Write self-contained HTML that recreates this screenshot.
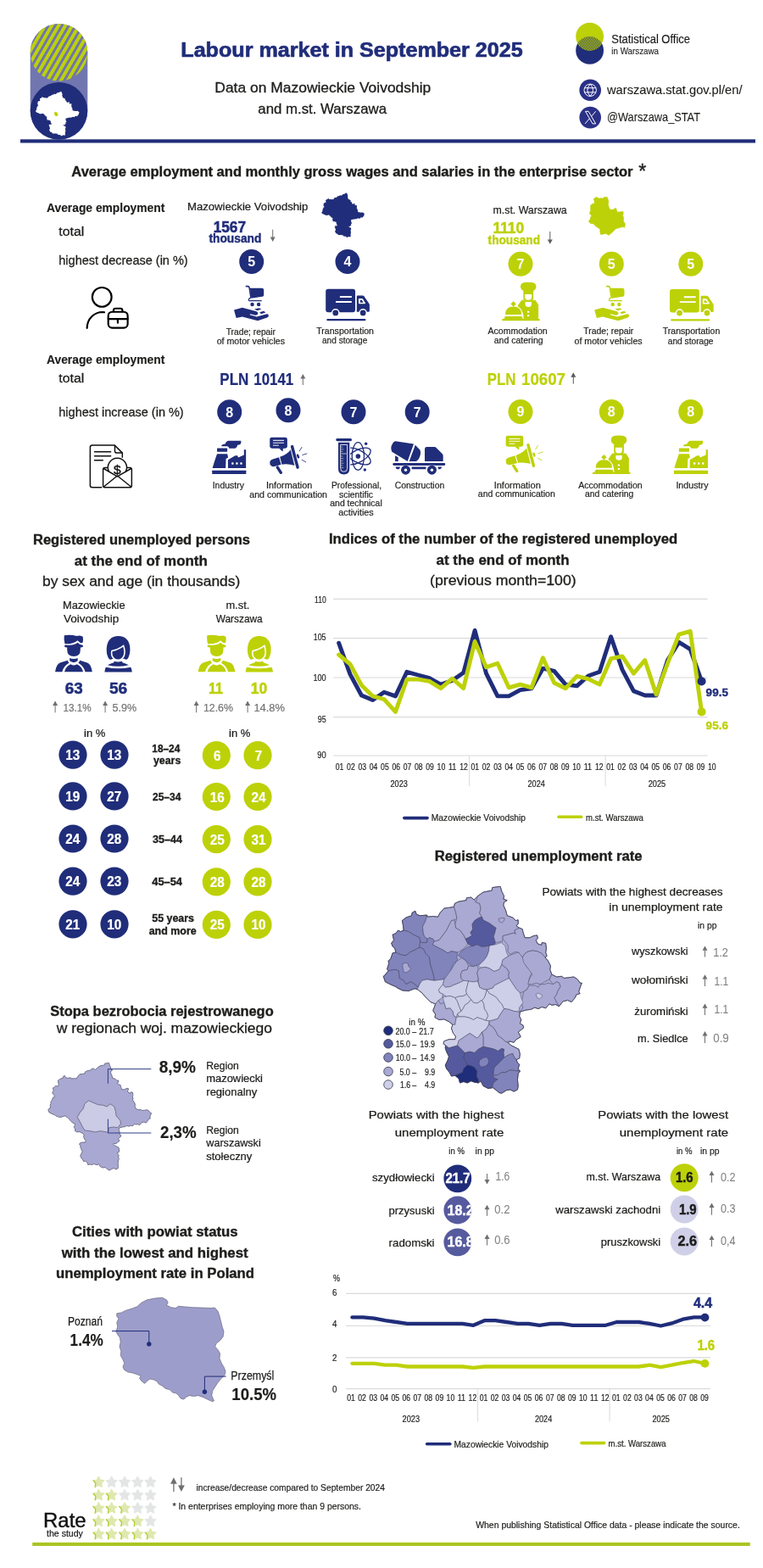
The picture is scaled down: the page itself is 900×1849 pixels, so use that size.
<!DOCTYPE html>
<html lang="en">
<head>
<meta charset="utf-8">
<title>Labour market in September 2025</title>
<style>
html,body{margin:0;padding:0;background:#fff}
body{width:900px;height:1849px;overflow:hidden}
svg{display:block;font-family:"Liberation Sans", "DejaVu Sans", sans-serif}
text{white-space:pre}
</style>
</head>
<body>
<svg width="900" height="1849" viewBox="0 0 900 1849">
<rect width="900" height="1849" fill="#fff"/>
<g id="header">
<defs><pattern id="hatch" width="6.95" height="6.95" patternUnits="userSpaceOnUse" patternTransform="rotate(30) translate(3.4 0)"><rect width="6.95" height="6.95" fill="#6f73b0"/><rect width="4" height="6.95" fill="#bdd108"/></pattern>
<clipPath id="lens"><circle cx="695.6" cy="43.1" r="16.4"/></clipPath><clipPath id="lens2"><circle cx="695.6" cy="59.4" r="16.4"/></clipPath></defs>
<rect x="35.7" y="28" width="67.6" height="136.6" rx="33.8" fill="#7276b0"/>
<circle cx="69.5" cy="61.8" r="33.8" fill="url(#hatch)"/>
<circle cx="69.5" cy="130.8" r="33.8" fill="#202d7a"/>
<g transform="translate(39.29 105.66) scale(0.03185 0.03104)"><path d="M85 805 L95 800 L125 760 L115 745 L130 700 L125 680 L145 660 L160 615 L185 610 L180 580 L160 560 L150 535 L170 510 L160 465 L185 455 L205 430 L225 440 L250 430 L245 385 L238 350 L270 325 L315 310 L320 285 L345 272 L355 300 L385 310 L440 305 L445 320 L490 315 L530 320 L545 290 L580 250 L620 245 L660 238 L668 210 L700 195 L760 185 L765 165 L800 160 L825 180 L855 150 L900 118 L970 105 L975 80 L1040 72 L1050 110 L1070 150 L1065 175 L1095 185 L1070 200 L1065 225 L1085 270 L1095 310 L1140 325 L1165 350 L1185 345 L1185 375 L1170 395 L1195 410 L1220 420 L1225 445 L1240 490 L1280 490 L1310 475 L1340 470 L1345 495 L1330 510 L1345 540 L1375 550 L1380 530 L1410 535 L1415 580 L1410 610 L1420 640 L1405 650 L1430 680 L1450 720 L1445 750 L1460 790 L1500 810 L1540 805 L1560 820 L1600 815 L1640 810 L1670 830 L1690 860 L1705 860 L1695 885 L1690 900 L1680 930 L1690 945 L1660 955 L1650 980 L1620 1015 L1590 1000 L1550 1010 L1520 1050 L1490 1035 L1460 1040 L1440 1030 L1410 1065 L1380 1055 L1350 1070 L1320 1060 L1290 1075 L1250 1080 L1200 1095 L1195 1130 L1210 1160 L1200 1190 L1225 1205 L1230 1225 L1205 1245 L1185 1260 L1200 1285 L1205 1300 L1170 1320 L1150 1345 L1115 1335 L1105 1350 L1130 1370 L1170 1390 L1190 1400 L1200 1440 L1195 1475 L1170 1485 L1180 1510 L1195 1525 L1185 1560 L1200 1580 L1185 1600 L1180 1650 L1185 1700 L1180 1730 L1150 1745 L1120 1730 L1090 1735 L1050 1760 L1030 1755 L1000 1730 L980 1715 L940 1720 L900 1700 L880 1660 L860 1675 L830 1670 L800 1660 L770 1675 L740 1665 L710 1675 L700 1640 L670 1615 L640 1620 L625 1590 L600 1560 L590 1530 L610 1490 L620 1460 L600 1420 L590 1390 L595 1370 L575 1355 L580 1335 L620 1320 L670 1320 L675 1295 L655 1270 L640 1230 L650 1200 L620 1175 L580 1155 L540 1160 L505 1140 L510 1115 L490 1085 L500 1060 L510 1030 L470 1015 L430 975 L400 940 L360 910 L340 905 L290 925 L240 920 L200 900 L185 890 L140 870 L100 850 Z" fill="#fff"/></g>
<path d="M64.4 132.3l1.2-.6 1.3.5 .9 1.2 .8 1.6-.6 1.5-1.4.6-1.3-.4-.9-1.4-.5-1.5z" fill="#bdd108"/>
<rect x="24" y="164.3" width="867" height="4.2" fill="#202d7a"/>
<text x="213.3" y="66.7" font-size="24.4" font-weight="700" fill="#202d7a" stroke="#202d7a" stroke-width="0.68" textLength="403.4" lengthAdjust="spacingAndGlyphs">Labour market in September 2025</text>
<text x="253.3" y="109.0" font-size="17.2" font-weight="400" fill="#1d1d1b" stroke="#1d1d1b" stroke-width="0.31" textLength="255.0" lengthAdjust="spacingAndGlyphs">Data on Mazowieckie Voivodship</text>
<text x="304.3" y="134.3" font-size="17.2" font-weight="400" fill="#1d1d1b" stroke="#1d1d1b" stroke-width="0.31" textLength="151.7" lengthAdjust="spacingAndGlyphs">and m.st. Warszawa</text>
<circle cx="695.6" cy="59.4" r="16.4" fill="#202d7a"/>
<circle cx="695.6" cy="43.1" r="16.4" fill="#bdd108"/>
<g clip-path="url(#lens)"><g clip-path="url(#lens2)"><rect x="675" y="40" width="42" height="22" fill="#bdd108"/><path d="M664.20 61L675.75 41M666.20 61L677.75 41M668.20 61L679.75 41M670.20 61L681.75 41M672.20 61L683.75 41M674.20 61L685.75 41M676.20 61L687.75 41M678.20 61L689.75 41M680.20 61L691.75 41M682.20 61L693.75 41M684.20 61L695.75 41M686.20 61L697.75 41M688.20 61L699.75 41M690.20 61L701.75 41M692.20 61L703.75 41M694.20 61L705.75 41M696.20 61L707.75 41M698.20 61L709.75 41M700.20 61L711.75 41M702.20 61L713.75 41M704.20 61L715.75 41M706.20 61L717.75 41M708.20 61L719.75 41M710.20 61L721.75 41M712.20 61L723.75 41M714.20 61L725.75 41M716.20 61L727.75 41M718.20 61L729.75 41M720.20 61L731.75 41M722.20 61L733.75 41" stroke="#2a3a66" stroke-width="0.9" fill="none"/></g></g>
<text x="721.3" y="50.8" font-size="15.2" font-weight="400" fill="#1a1a1a" stroke="#1a1a1a" stroke-width="0.16" textLength="92.7" lengthAdjust="spacingAndGlyphs">Statistical Office</text>
<text x="721.3" y="63.8" font-size="11.6" font-weight="400" fill="#1a1a1a" stroke="#1a1a1a" stroke-width="0.13" textLength="55.7" lengthAdjust="spacingAndGlyphs">in Warszawa</text>
<circle cx="696.2" cy="106.3" r="12.8" fill="#2a3187"/>
<g fill="none" stroke="#fff" stroke-width="1"><circle cx="696.2" cy="106.3" r="7.2"/><path d="M696.2 99.1Q702.8 106.3 696.2 113.5Q689.6 106.3 696.2 99.1Z"/><path d="M689.5 103.7H702.9M689.5 108.9H702.9"/></g>
<circle cx="696.2" cy="138.6" r="12.8" fill="#2a3187"/>
<g fill="none" stroke="#fff" stroke-width="1" stroke-linejoin="miter"><path d="M702.7 131.3L690.1 145.9"/><path d="M690.5 131.3H694.1L702.7 145.9H699.0Z" fill="#2a3187"/></g>
<text x="716.0" y="110.8" font-size="14.6" font-weight="400" fill="#1d1d1b" stroke="#1d1d1b" stroke-width="0.11" textLength="159.5" lengthAdjust="spacingAndGlyphs">warszawa.stat.gov.pl/en/</text>
<text x="716.0" y="143.3" font-size="14.6" font-weight="400" fill="#1d1d1b" stroke="#1d1d1b" stroke-width="0.11" textLength="110.0" lengthAdjust="spacingAndGlyphs">@Warszawa_STAT</text>
</g>
<g id="enterprise">
<text x="84.3" y="208.3" font-size="17.4" font-weight="700" fill="#1d1d1b" stroke="#1d1d1b" stroke-width="0.39" textLength="662.2" lengthAdjust="spacingAndGlyphs">Average employment and monthly gross wages and salaries in the enterprise sector</text>
<text x="753.2" y="209.6" font-size="23.0" font-weight="400" fill="#1d1d1b" stroke="#1d1d1b" stroke-width="0.41" textLength="9.0" lengthAdjust="spacingAndGlyphs">*</text>
<text x="55.0" y="250.3" font-size="14.6" font-weight="700" fill="#1d1d1b" stroke="#1d1d1b" stroke-width="0.16" textLength="139.3" lengthAdjust="spacingAndGlyphs">Average employment</text>
<text x="69.3" y="278.0" font-size="14.9" font-weight="400" fill="#1d1d1b" stroke="#1d1d1b" stroke-width="0.27" textLength="30.0" lengthAdjust="spacingAndGlyphs">total</text>
<text x="69.3" y="311.9" font-size="14.9" font-weight="400" fill="#1d1d1b" stroke="#1d1d1b" stroke-width="0.27" textLength="152.4" lengthAdjust="spacingAndGlyphs">highest decrease (in %)</text>
<text x="221.0" y="247.6" font-size="13.5" font-weight="400" fill="#1d1d1b" stroke="#1d1d1b" stroke-width="0.24" textLength="142.3" lengthAdjust="spacingAndGlyphs">Mazowieckie Voivodship</text>
<text x="251.7" y="274.2" font-size="18.6" font-weight="700" fill="#202d7a" stroke="#202d7a" stroke-width="0.52" textLength="38.3" lengthAdjust="spacingAndGlyphs">1567</text>
<text x="246.5" y="286.0" font-size="14.6" font-weight="700" fill="#202d7a" stroke="#202d7a" stroke-width="0.41" textLength="61.8" lengthAdjust="spacingAndGlyphs">thousand</text>
<path d="M321.7 270.7V280.7" stroke="#6f6f6e" stroke-width="1.0" fill="none"/><path d="M321.7 285.0L318.7 279.6L324.7 279.6Z" fill="#6f6f6e"/>
<g transform="translate(376.64 225.26) scale(0.03130 0.03110)"><path d="M85 805 L95 800 L125 760 L115 745 L130 700 L125 680 L145 660 L160 615 L185 610 L180 580 L160 560 L150 535 L170 510 L160 465 L185 455 L205 430 L225 440 L250 430 L245 385 L238 350 L270 325 L315 310 L320 285 L345 272 L355 300 L385 310 L440 305 L445 320 L490 315 L530 320 L545 290 L580 250 L620 245 L660 238 L668 210 L700 195 L760 185 L765 165 L800 160 L825 180 L855 150 L900 118 L970 105 L975 80 L1040 72 L1050 110 L1070 150 L1065 175 L1095 185 L1070 200 L1065 225 L1085 270 L1095 310 L1140 325 L1165 350 L1185 345 L1185 375 L1170 395 L1195 410 L1220 420 L1225 445 L1240 490 L1280 490 L1310 475 L1340 470 L1345 495 L1330 510 L1345 540 L1375 550 L1380 530 L1410 535 L1415 580 L1410 610 L1420 640 L1405 650 L1430 680 L1450 720 L1445 750 L1460 790 L1500 810 L1540 805 L1560 820 L1600 815 L1640 810 L1670 830 L1690 860 L1705 860 L1695 885 L1690 900 L1680 930 L1690 945 L1660 955 L1650 980 L1620 1015 L1590 1000 L1550 1010 L1520 1050 L1490 1035 L1460 1040 L1440 1030 L1410 1065 L1380 1055 L1350 1070 L1320 1060 L1290 1075 L1250 1080 L1200 1095 L1195 1130 L1210 1160 L1200 1190 L1225 1205 L1230 1225 L1205 1245 L1185 1260 L1200 1285 L1205 1300 L1170 1320 L1150 1345 L1115 1335 L1105 1350 L1130 1370 L1170 1390 L1190 1400 L1200 1440 L1195 1475 L1170 1485 L1180 1510 L1195 1525 L1185 1560 L1200 1580 L1185 1600 L1180 1650 L1185 1700 L1180 1730 L1150 1745 L1120 1730 L1090 1735 L1050 1760 L1030 1755 L1000 1730 L980 1715 L940 1720 L900 1700 L880 1660 L860 1675 L830 1670 L800 1660 L770 1675 L740 1665 L710 1675 L700 1640 L670 1615 L640 1620 L625 1590 L600 1560 L590 1530 L610 1490 L620 1460 L600 1420 L590 1390 L595 1370 L575 1355 L580 1335 L620 1320 L670 1320 L675 1295 L655 1270 L640 1230 L650 1200 L620 1175 L580 1155 L540 1160 L505 1140 L510 1115 L490 1085 L500 1060 L510 1030 L470 1015 L430 975 L400 940 L360 910 L340 905 L290 925 L240 920 L200 900 L185 890 L140 870 L100 850 Z" fill="#202d7a"/></g>
<circle cx="296.7" cy="308.6" r="14.5" fill="#202d7a"/><text x="296.7" y="314.4" font-size="16.0" font-weight="700" fill="#fff" stroke="#fff" stroke-width="0.00" text-anchor="middle">5</text>
<circle cx="410.0" cy="308.6" r="14.5" fill="#202d7a"/><text x="410.0" y="314.4" font-size="16.0" font-weight="700" fill="#fff" stroke="#fff" stroke-width="0.00" text-anchor="middle">4</text>
<g transform="translate(90 325) scale(0.08889)"><g fill="none" stroke="#000" stroke-width="24" stroke-linecap="round" stroke-linejoin="round"><circle cx="340" cy="285" r="128"/><path d="M142 696 C146 572 236 484 350 484 L372 487"/><rect x="424" y="481" width="258" height="212" rx="52"/><path d="M494 478V462Q494 436 520 436H586Q612 436 612 462V478"/><path d="M424 575H682M550 578V626"/></g></g>
<g transform="translate(260.00 325.04) scale(0.08891 0.08894)"><g fill="#202d7a"><path d="M342 142H362Q380 142 384 162L404 285" fill="none" stroke="#202d7a" stroke-width="18" stroke-linecap="round"/><path d="M392 165H548Q576 165 576 192V255Q576 276 555 279L410 299Z"/><path d="M404 290Q376 300 374 320Q374 336 396 334H542" fill="none" stroke="#202d7a" stroke-width="14" stroke-linecap="round"/><circle cx="422" cy="382" r="25"/><circle cx="507" cy="382" r="25"/><path d="M180 455L290 425L480 475Q506 488 496 512Q482 530 455 522L395 508L390 520L482 545L606 510Q640 503 640 530Q640 546 620 556L495 598L290 545L210 563Z"/><path d="M450 445L510 430L545 445L490 462Z"/><path d="M520 485L575 468L600 490L540 508Z"/></g></g>
<g transform="translate(369.99 329.96) scale(0.08883 0.08889)"><g fill="#202d7a"><rect x="160" y="122" width="392" height="308" rx="32"/><path d="M572 220Q572 208 584 208H652Q662 208 668 216L736 316Q742 325 742 336V412Q742 425 730 425H572Z"/><path d="M606 248H640Q648 248 652 254L686 306Q690 318 678 318H606Q596 318 596 308V258Q596 248 606 248Z" fill="#fff"/><path d="M618 268H638L662 302H618Z"/><rect x="348" y="214" width="158" height="22" rx="6" fill="#fff"/><rect x="292" y="281" width="214" height="22" rx="6" fill="#fff"/><circle cx="290" cy="438" r="54" fill="#fff"/><circle cx="655" cy="438" r="54" fill="#fff"/><circle cx="290" cy="438" r="38"/><circle cx="655" cy="438" r="38"/><rect x="172" y="518" width="520" height="26" rx="13"/></g></g>
<text x="266.7" y="394.5" font-size="10.0" font-weight="400" fill="#1d1d1b" stroke="#1d1d1b" stroke-width="0.18" textLength="58.3" lengthAdjust="spacingAndGlyphs">Trade; repair</text>
<text x="255.7" y="405.8" font-size="10.0" font-weight="400" fill="#1d1d1b" stroke="#1d1d1b" stroke-width="0.18" textLength="80.3" lengthAdjust="spacingAndGlyphs">of motor vehicles</text>
<text x="373.3" y="394.0" font-size="10.0" font-weight="400" fill="#1d1d1b" stroke="#1d1d1b" stroke-width="0.18" textLength="67.7" lengthAdjust="spacingAndGlyphs">Transportation</text>
<text x="380.0" y="405.0" font-size="10.0" font-weight="400" fill="#1d1d1b" stroke="#1d1d1b" stroke-width="0.18" textLength="53.3" lengthAdjust="spacingAndGlyphs">and storage</text>
<text x="581.6" y="252.2" font-size="13.5" font-weight="400" fill="#1d1d1b" stroke="#1d1d1b" stroke-width="0.24" textLength="87.1" lengthAdjust="spacingAndGlyphs">m.st. Warszawa</text>
<text x="581.4" y="275.0" font-size="18.6" font-weight="700" fill="#bdd108" stroke="#bdd108" stroke-width="0.52" textLength="36.8" lengthAdjust="spacingAndGlyphs">1110</text>
<text x="575.6" y="287.5" font-size="14.6" font-weight="700" fill="#bdd108" stroke="#bdd108" stroke-width="0.41" textLength="61.4" lengthAdjust="spacingAndGlyphs">thousand</text>
<path d="M648.8 273.0V283.5" stroke="#5f5f5f" stroke-width="1.0" fill="none"/><path d="M648.8 287.8L645.8 282.4L651.8 282.4Z" fill="#5f5f5f"/>
<g transform="translate(680.34 222.34) scale(0.07699 0.07700)"><path d="M255 160 L300 130 L340 150 L380 145 L400 155 L410 135 L465 128 L485 180 L488 220 L480 240 L495 290 L515 325 L560 320 L600 295 L610 330 L625 362 L680 352 L710 350 L715 385 L705 410 L720 450 L715 500 L745 545 L730 600 L705 585 L660 600 L600 615 L555 660 L490 715 L445 690 L400 700 L365 705 L355 655 L355 620 L300 585 L255 540 L210 535 L180 500 L205 470 L210 435 L230 420 L195 385 L210 330 L210 260 L235 235 L270 225 L268 190 Z" fill="#bdd108" stroke="#bdd108" stroke-width="6" stroke-linejoin="round"/></g>
<circle cx="614.0" cy="311.2" r="14.5" fill="#bdd108"/><text x="614.0" y="317.0" font-size="16.0" font-weight="700" fill="#fff" stroke="#fff" stroke-width="0.00" text-anchor="middle">7</text>
<circle cx="721.3" cy="311.2" r="14.5" fill="#bdd108"/><text x="721.3" y="317.0" font-size="16.0" font-weight="700" fill="#fff" stroke="#fff" stroke-width="0.00" text-anchor="middle">5</text>
<circle cx="814.8" cy="311.2" r="14.5" fill="#bdd108"/><text x="814.8" y="317.0" font-size="16.0" font-weight="700" fill="#fff" stroke="#fff" stroke-width="0.00" text-anchor="middle">5</text>
<g transform="translate(580.00 324.98) scale(0.08891 0.08887)"><g fill="#bdd108"><path d="M420 300V202Q382 186 382 145Q382 96 440 90Q485 84 530 90Q590 96 590 145Q590 186 552 202V300Q552 330 520 330H452Q420 330 420 300Z"/><path d="M440 248H530V285Q530 326 485 326Q440 326 440 285Z" fill="#fff"/><path d="M398 328H578L616 388V585H352V395Z" stroke="#bdd108" stroke-width="8" stroke-linejoin="round"/><path d="M445 350H528V380Q528 416 487 416Q445 416 445 380Z" fill="#fff"/><rect x="472" y="470" width="26" height="22" rx="4" fill="#fff"/><rect x="472" y="520" width="26" height="22" rx="4" fill="#fff"/><path d="M165 590V540Q165 400 288 400Q420 400 425 590Z" fill="#fff"/><path d="M180 517Q180 410 288 410Q395 410 395 517Z"/><path d="M288 343L320 375L288 410L256 375Z" stroke="#bdd108" stroke-width="6" stroke-linejoin="round"/><path d="M168 580V560Q168 540 190 540H388Q410 540 410 560V580Z"/><rect x="135" y="574" width="505" height="26" rx="13"/></g></g>
<g transform="translate(685.20 325.04) scale(0.08891 0.08894)"><g fill="#bdd108"><path d="M342 142H362Q380 142 384 162L404 285" fill="none" stroke="#bdd108" stroke-width="18" stroke-linecap="round"/><path d="M392 165H548Q576 165 576 192V255Q576 276 555 279L410 299Z"/><path d="M404 290Q376 300 374 320Q374 336 396 334H542" fill="none" stroke="#bdd108" stroke-width="14" stroke-linecap="round"/><circle cx="422" cy="382" r="25"/><circle cx="507" cy="382" r="25"/><path d="M180 455L290 425L480 475Q506 488 496 512Q482 530 455 522L395 508L390 520L482 545L606 510Q640 503 640 530Q640 546 620 556L495 598L290 545L210 563Z"/><path d="M450 445L510 430L545 445L490 462Z"/><path d="M520 485L575 468L600 490L540 508Z"/></g></g>
<g transform="translate(775.79 330.16) scale(0.08883 0.08889)"><g fill="#bdd108"><rect x="160" y="122" width="392" height="308" rx="32"/><path d="M572 220Q572 208 584 208H652Q662 208 668 216L736 316Q742 325 742 336V412Q742 425 730 425H572Z"/><path d="M606 248H640Q648 248 652 254L686 306Q690 318 678 318H606Q596 318 596 308V258Q596 248 606 248Z" fill="#fff"/><path d="M618 268H638L662 302H618Z"/><rect x="348" y="214" width="158" height="22" rx="6" fill="#fff"/><rect x="292" y="281" width="214" height="22" rx="6" fill="#fff"/><circle cx="290" cy="438" r="54" fill="#fff"/><circle cx="655" cy="438" r="54" fill="#fff"/><circle cx="290" cy="438" r="38"/><circle cx="655" cy="438" r="38"/><rect x="172" y="518" width="520" height="26" rx="13"/></g></g>
<text x="575.6" y="394.0" font-size="10.0" font-weight="400" fill="#1d1d1b" stroke="#1d1d1b" stroke-width="0.18" textLength="70.0" lengthAdjust="spacingAndGlyphs">Acommodation</text>
<text x="582.7" y="405.0" font-size="10.0" font-weight="400" fill="#1d1d1b" stroke="#1d1d1b" stroke-width="0.18" textLength="57.9" lengthAdjust="spacingAndGlyphs">and catering</text>
<text x="688.3" y="394.0" font-size="10.0" font-weight="400" fill="#1d1d1b" stroke="#1d1d1b" stroke-width="0.18" textLength="59.0" lengthAdjust="spacingAndGlyphs">Trade; repair</text>
<text x="677.6" y="405.5" font-size="10.0" font-weight="400" fill="#1d1d1b" stroke="#1d1d1b" stroke-width="0.18" textLength="80.0" lengthAdjust="spacingAndGlyphs">of motor vehicles</text>
<text x="781.8" y="394.0" font-size="10.0" font-weight="400" fill="#1d1d1b" stroke="#1d1d1b" stroke-width="0.18" textLength="67.5" lengthAdjust="spacingAndGlyphs">Transportation</text>
<text x="787.8" y="405.5" font-size="10.0" font-weight="400" fill="#1d1d1b" stroke="#1d1d1b" stroke-width="0.18" textLength="53.7" lengthAdjust="spacingAndGlyphs">and storage</text>
<text x="55.0" y="428.8" font-size="14.6" font-weight="700" fill="#1d1d1b" stroke="#1d1d1b" stroke-width="0.16" textLength="139.3" lengthAdjust="spacingAndGlyphs">Average employment</text>
<text x="69.3" y="451.4" font-size="14.9" font-weight="400" fill="#1d1d1b" stroke="#1d1d1b" stroke-width="0.27" textLength="30.0" lengthAdjust="spacingAndGlyphs">total</text>
<text x="69.3" y="490.8" font-size="14.9" font-weight="400" fill="#1d1d1b" stroke="#1d1d1b" stroke-width="0.27" textLength="147.4" lengthAdjust="spacingAndGlyphs">highest increase (in %)</text>
<text x="259.3" y="454.0" font-size="19.6" font-weight="700" fill="#202d7a" stroke="#202d7a" stroke-width="0.22" textLength="34.0" lengthAdjust="spacingAndGlyphs">PLN</text>
<text x="299.3" y="454.0" font-size="19.6" font-weight="700" fill="#202d7a" stroke="#202d7a" stroke-width="0.22" textLength="46.9" lengthAdjust="spacingAndGlyphs">10141</text>
<path d="M357.3 445.3V454.0" stroke="#6f6f6e" stroke-width="1.0" fill="none"/><path d="M357.3 441.0L354.3 446.4L360.3 446.4Z" fill="#6f6f6e"/>
<text x="574.8" y="454.0" font-size="19.6" font-weight="700" fill="#bdd108" stroke="#bdd108" stroke-width="0.22" textLength="33.7" lengthAdjust="spacingAndGlyphs">PLN</text>
<text x="615.0" y="454.0" font-size="19.6" font-weight="700" fill="#bdd108" stroke="#bdd108" stroke-width="0.22" textLength="52.0" lengthAdjust="spacingAndGlyphs">10607</text>
<path d="M676.3 443.6V452.7" stroke="#5a5a5a" stroke-width="1.0" fill="none"/><path d="M676.3 439.3L673.3 444.7L679.3 444.7Z" fill="#5a5a5a"/>
<circle cx="270.7" cy="485.7" r="14.5" fill="#202d7a"/><text x="270.7" y="491.5" font-size="16.0" font-weight="700" fill="#fff" stroke="#fff" stroke-width="0.00" text-anchor="middle">8</text>
<circle cx="340.0" cy="483.8" r="14.5" fill="#202d7a"/><text x="340.0" y="489.6" font-size="16.0" font-weight="700" fill="#fff" stroke="#fff" stroke-width="0.00" text-anchor="middle">8</text>
<circle cx="417.0" cy="485.7" r="14.5" fill="#202d7a"/><text x="417.0" y="491.5" font-size="16.0" font-weight="700" fill="#fff" stroke="#fff" stroke-width="0.00" text-anchor="middle">7</text>
<circle cx="492.2" cy="485.7" r="14.5" fill="#202d7a"/><text x="492.2" y="491.5" font-size="16.0" font-weight="700" fill="#fff" stroke="#fff" stroke-width="0.00" text-anchor="middle">7</text>
<circle cx="614.0" cy="485.4" r="14.5" fill="#bdd108"/><text x="614.0" y="491.2" font-size="16.0" font-weight="700" fill="#fff" stroke="#fff" stroke-width="0.00" text-anchor="middle">9</text>
<circle cx="721.3" cy="485.4" r="14.5" fill="#bdd108"/><text x="721.3" y="491.2" font-size="16.0" font-weight="700" fill="#fff" stroke="#fff" stroke-width="0.00" text-anchor="middle">8</text>
<circle cx="814.8" cy="485.4" r="14.5" fill="#bdd108"/><text x="814.8" y="491.2" font-size="16.0" font-weight="700" fill="#fff" stroke="#fff" stroke-width="0.00" text-anchor="middle">8</text>
<g transform="translate(95 515) scale(0.07778)"><g fill="none" stroke="#111" stroke-width="19" stroke-linecap="round" stroke-linejoin="round"><path d="M318 768H178Q146 768 146 736V162Q146 130 178 130H518L634 246V312"/><path d="M520 135V215Q520 245 550 245H630"/><path d="M212 228H458M212 293H458M212 357H338"/><path d="M410 468H372Q342 468 342 498V738Q342 768 372 768H746Q776 768 776 738V498Q776 468 746 468H706"/><path d="M350 482L558 604L768 482M352 758L558 592L766 758"/><path d="M431 530A142 142 0 1 1 685 530"/></g><text x="558" y="560" font-size="200" font-weight="400" fill="#111" stroke="#111" stroke-width="5" text-anchor="middle">$</text></g>
<g transform="translate(235.02 509.97) scale(0.07786 0.07773)"><g fill="#202d7a"><rect x="195" y="575" width="515" height="57" rx="6"/><path d="M270 325H425L438 380L405 400L400 540H200L230 440Z"/><rect x="270" y="238" width="155" height="54" rx="4"/><path d="M335 202Q345 180 395 175Q405 130 440 125H632Q642 150 622 180Q602 190 580 190Q575 232 545 240H455Q445 215 425 210H340Z"/><path d="M435 415L545 350H580L590 380L678 340V262H708V540H435Z"/><rect x="490" y="455" width="30" height="30" rx="8" fill="#fff"/><rect x="555" y="455" width="30" height="30" rx="8" fill="#fff"/><rect x="620" y="455" width="30" height="30" rx="8" fill="#fff"/></g></g>
<g transform="translate(305.03 504.99) scale(0.07778 0.07786)"><g fill="#202d7a"><rect x="170" y="138" width="265" height="167" rx="32"/><path d="M305 300H375L365 352Z"/><rect x="218" y="177" width="167" height="15" fill="#fff" opacity=".9"/><rect x="218" y="214" width="167" height="15" fill="#fff" opacity=".8"/><rect x="218" y="252" width="88" height="15" fill="#fff" opacity=".8"/><path d="M310 440L345 550L230 580Q175 585 170 525Q170 480 215 468Z"/><path d="M322 435Q430 400 490 320L550 565Q450 535 352 548Z"/><path d="M315 435L348 552M488 318L549 567" stroke="#fff" stroke-width="9" fill="none"/><path d="M508 277L592 593" stroke="#202d7a" stroke-width="44" stroke-linecap="round"/><path d="M592 408L604 440" stroke="#202d7a" stroke-width="32" stroke-linecap="round"/><path d="M286 592L338 672" stroke="#202d7a" stroke-width="44" stroke-linecap="round"/><path d="M655 288L620 345M665 405L730 385M658 478L715 512" stroke="#202d7a" stroke-width="11" stroke-linecap="round"/></g></g>
<g transform="translate(385.02 504.98) scale(0.07778 0.07774)"><g fill="#202d7a"><defs><clipPath id="atomclip"><rect x="362" y="150" width="400" height="600"/></clipPath></defs><path d="M164 175H366" stroke="#202d7a" stroke-width="40" stroke-linecap="round"/><path d="M180 215H350V615Q350 700 265 700Q180 700 180 615Z"/><path d="M214 250H316V610Q316 660 265 660Q214 660 214 610Z" fill="none" stroke="#fff" stroke-width="11"/><path d="M225 386H305" stroke="#fff" stroke-width="9"/><path d="M222 285H250M222 320H262M222 352H250M222 425H250M222 460H262M222 495H250M222 530H262M222 565H250M222 600H262" stroke="#fff" stroke-width="8" opacity=".85"/><g fill="none" stroke="#202d7a" stroke-width="17" clip-path="url(#atomclip)"><ellipse cx="480" cy="425" rx="92" ry="210"/><ellipse cx="480" cy="425" rx="92" ry="210" transform="rotate(62 480 425)"/><ellipse cx="480" cy="425" rx="92" ry="210" transform="rotate(-62 480 425)"/></g><circle cx="480" cy="425" r="36"/><circle cx="600" cy="235" r="22"/><circle cx="583" cy="630" r="22"/></g></g>
<g transform="translate(454.96 510.05) scale(0.08889 0.08884)"><g fill="#202d7a"><path d="M130 116L372 150L290 382L82 255Q58 200 90 148Q105 118 130 116Z"/><path d="M392 165L455 230Q466 250 460 292Q450 350 405 383H312Z"/><path d="M125 305L166 330V383H125Z"/><path d="M518 218Q518 192 545 192H650Q660 192 668 200L752 285Q762 295 762 308V383H518Z"/><path d="M112 421H773" stroke="#202d7a" stroke-width="32" stroke-linecap="round"/><path d="M130 455H192L180 485H150Q132 480 130 455ZM345 455H535V485H345ZM690 455H745Q742 482 722 485H700Z"/><circle cx="265" cy="497" r="76" fill="#fff"/><circle cx="613" cy="497" r="76" fill="#fff"/><circle cx="265" cy="497" r="62"/><circle cx="613" cy="497" r="62"/><circle cx="265" cy="497" r="19" fill="#fff"/><circle cx="613" cy="497" r="19" fill="#fff"/><path d="M112 421H773" stroke="#202d7a" stroke-width="32" stroke-linecap="round"/></g></g>
<g transform="translate(583.43 503.09) scale(0.07778 0.07786)"><g fill="#bdd108"><rect x="170" y="138" width="265" height="167" rx="32"/><path d="M305 300H375L365 352Z"/><rect x="218" y="177" width="167" height="15" fill="#fff" opacity=".9"/><rect x="218" y="214" width="167" height="15" fill="#fff" opacity=".8"/><rect x="218" y="252" width="88" height="15" fill="#fff" opacity=".8"/><path d="M310 440L345 550L230 580Q175 585 170 525Q170 480 215 468Z"/><path d="M322 435Q430 400 490 320L550 565Q450 535 352 548Z"/><path d="M315 435L348 552M488 318L549 567" stroke="#fff" stroke-width="9" fill="none"/><path d="M508 277L592 593" stroke="#bdd108" stroke-width="44" stroke-linecap="round"/><path d="M592 408L604 440" stroke="#bdd108" stroke-width="32" stroke-linecap="round"/><path d="M286 592L338 672" stroke="#bdd108" stroke-width="44" stroke-linecap="round"/><path d="M655 288L620 345M665 405L730 385M658 478L715 512" stroke="#bdd108" stroke-width="11" stroke-linecap="round"/></g></g>
<g transform="translate(686.80 505.78) scale(0.08891 0.08887)"><g fill="#bdd108"><path d="M420 300V202Q382 186 382 145Q382 96 440 90Q485 84 530 90Q590 96 590 145Q590 186 552 202V300Q552 330 520 330H452Q420 330 420 300Z"/><path d="M440 248H530V285Q530 326 485 326Q440 326 440 285Z" fill="#fff"/><path d="M398 328H578L616 388V585H352V395Z" stroke="#bdd108" stroke-width="8" stroke-linejoin="round"/><path d="M445 350H528V380Q528 416 487 416Q445 416 445 380Z" fill="#fff"/><rect x="472" y="470" width="26" height="22" rx="4" fill="#fff"/><rect x="472" y="520" width="26" height="22" rx="4" fill="#fff"/><path d="M165 590V540Q165 400 288 400Q420 400 425 590Z" fill="#fff"/><path d="M180 517Q180 410 288 410Q395 410 395 517Z"/><path d="M288 343L320 375L288 410L256 375Z" stroke="#bdd108" stroke-width="6" stroke-linejoin="round"/><path d="M168 580V560Q168 540 190 540H388Q410 540 410 560V580Z"/><rect x="135" y="574" width="505" height="26" rx="13"/></g></g>
<g transform="translate(779.82 509.97) scale(0.07786 0.07773)"><g fill="#bdd108"><rect x="195" y="575" width="515" height="57" rx="6"/><path d="M270 325H425L438 380L405 400L400 540H200L230 440Z"/><rect x="270" y="238" width="155" height="54" rx="4"/><path d="M335 202Q345 180 395 175Q405 130 440 125H632Q642 150 622 180Q602 190 580 190Q575 232 545 240H455Q445 215 425 210H340Z"/><path d="M435 415L545 350H580L590 380L678 340V262H708V540H435Z"/><rect x="490" y="455" width="30" height="30" rx="8" fill="#fff"/><rect x="555" y="455" width="30" height="30" rx="8" fill="#fff"/><rect x="620" y="455" width="30" height="30" rx="8" fill="#fff"/></g></g>
<text x="250.7" y="575.5" font-size="10.0" font-weight="400" fill="#1d1d1b" stroke="#1d1d1b" stroke-width="0.18" textLength="37.2" lengthAdjust="spacingAndGlyphs">Industry</text>
<text x="314.0" y="575.5" font-size="10.0" font-weight="400" fill="#1d1d1b" stroke="#1d1d1b" stroke-width="0.18" textLength="54.3" lengthAdjust="spacingAndGlyphs">Information</text>
<text x="294.3" y="586.5" font-size="10.0" font-weight="400" fill="#1d1d1b" stroke="#1d1d1b" stroke-width="0.18" textLength="91.7" lengthAdjust="spacingAndGlyphs">and communication</text>
<text x="391.0" y="575.5" font-size="10.0" font-weight="400" fill="#1d1d1b" stroke="#1d1d1b" stroke-width="0.18" textLength="59.0" lengthAdjust="spacingAndGlyphs">Professional,</text>
<text x="400.0" y="586.5" font-size="10.0" font-weight="400" fill="#1d1d1b" stroke="#1d1d1b" stroke-width="0.18" textLength="40.0" lengthAdjust="spacingAndGlyphs">scientific</text>
<text x="389.3" y="597.2" font-size="10.0" font-weight="400" fill="#1d1d1b" stroke="#1d1d1b" stroke-width="0.18" textLength="61.4" lengthAdjust="spacingAndGlyphs">and technical</text>
<text x="399.3" y="607.8" font-size="10.0" font-weight="400" fill="#1d1d1b" stroke="#1d1d1b" stroke-width="0.18" textLength="41.4" lengthAdjust="spacingAndGlyphs">activities</text>
<text x="465.7" y="575.5" font-size="10.0" font-weight="400" fill="#1d1d1b" stroke="#1d1d1b" stroke-width="0.18" textLength="58.6" lengthAdjust="spacingAndGlyphs">Construction</text>
<text x="582.7" y="575.5" font-size="10.0" font-weight="400" fill="#1d1d1b" stroke="#1d1d1b" stroke-width="0.18" textLength="55.1" lengthAdjust="spacingAndGlyphs">Information</text>
<text x="563.8" y="586.3" font-size="10.0" font-weight="400" fill="#1d1d1b" stroke="#1d1d1b" stroke-width="0.18" textLength="91.0" lengthAdjust="spacingAndGlyphs">and communication</text>
<text x="682.2" y="575.5" font-size="10.0" font-weight="400" fill="#1d1d1b" stroke="#1d1d1b" stroke-width="0.18" textLength="75.4" lengthAdjust="spacingAndGlyphs">Accommodation</text>
<text x="690.0" y="586.3" font-size="10.0" font-weight="400" fill="#1d1d1b" stroke="#1d1d1b" stroke-width="0.18" textLength="57.3" lengthAdjust="spacingAndGlyphs">and catering</text>
<text x="797.4" y="575.5" font-size="10.0" font-weight="400" fill="#1d1d1b" stroke="#1d1d1b" stroke-width="0.18" textLength="38.1" lengthAdjust="spacingAndGlyphs">Industry</text>
</g>
<g id="unemployed">
<text x="39.0" y="641.8" font-size="17.4" font-weight="700" fill="#1d1d1b" stroke="#1d1d1b" stroke-width="0.39" textLength="256.0" lengthAdjust="spacingAndGlyphs">Registered unemployed persons</text>
<text x="87.8" y="666.6" font-size="17.4" font-weight="700" fill="#1d1d1b" stroke="#1d1d1b" stroke-width="0.39" textLength="157.0" lengthAdjust="spacingAndGlyphs">at the end of month</text>
<text x="50.0" y="690.6" font-size="17.2" font-weight="400" fill="#1d1d1b" stroke="#1d1d1b" stroke-width="0.31" textLength="233.3" lengthAdjust="spacingAndGlyphs">by sex and age (in thousands)</text>
<text x="74.0" y="718.1" font-size="13.6" font-weight="400" fill="#1d1d1b" stroke="#1d1d1b" stroke-width="0.24" textLength="73.6" lengthAdjust="spacingAndGlyphs">Mazowieckie</text>
<text x="75.0" y="734.3" font-size="13.6" font-weight="400" fill="#1d1d1b" stroke="#1d1d1b" stroke-width="0.24" textLength="65.3" lengthAdjust="spacingAndGlyphs">Voivodship</text>
<text x="266.4" y="718.1" font-size="13.6" font-weight="400" fill="#1d1d1b" stroke="#1d1d1b" stroke-width="0.24" textLength="27.9" lengthAdjust="spacingAndGlyphs">m.st.</text>
<text x="254.7" y="734.3" font-size="13.6" font-weight="400" fill="#1d1d1b" stroke="#1d1d1b" stroke-width="0.24" textLength="55.0" lengthAdjust="spacingAndGlyphs">Warszawa</text>
<g transform="translate(54.97 740.00) scale(0.12235 0.12210)"><g fill="#202d7a"><path d="M170 76Q230 66 290 82Q330 70 350 90Q356 120 346 150Q320 150 298 124Q262 160 176 158Q164 116 170 76Z"/><path d="M184 168Q262 178 300 146Q318 166 340 168Q354 172 352 182Q348 192 326 192V212Q326 278 262 278Q198 278 198 212V192Q176 192 172 182Q170 170 184 168Z"/><path d="M222 294Q262 312 300 294V322Q262 352 222 322Z"/><path d="M82 428Q95 352 130 340L202 318Q208 332 216 342Q160 376 150 428Z"/><path d="M440 428Q428 352 392 340L322 318Q314 332 306 342Q362 376 372 428Z"/><path d="M172 428Q185 374 232 354Q262 374 292 354Q340 374 352 428Z"/></g></g>
<g transform="translate(54.93 739.99) scale(0.12226 0.12213)"><g fill="#202d7a"><path d="M604 306Q574 262 580 195Q590 85 692 82Q795 85 805 195Q810 262 780 306Q764 314 748 300H640Q620 314 604 306Z"/><path d="M630 226Q690 216 742 176Q762 230 746 276Q726 314 690 314Q650 314 632 276Q624 250 630 226Z" stroke="#fff" stroke-width="13"/><path d="M652 326Q690 338 728 326L732 338Q770 350 792 362Q690 388 588 362Q620 346 650 338Z"/><path d="M572 383Q690 408 812 383Q823 400 825 430H560Q562 400 572 383Z"/></g></g>
<g transform="translate(223.57 740.00) scale(0.12235 0.12210)"><g fill="#bdd108"><path d="M170 76Q230 66 290 82Q330 70 350 90Q356 120 346 150Q320 150 298 124Q262 160 176 158Q164 116 170 76Z"/><path d="M184 168Q262 178 300 146Q318 166 340 168Q354 172 352 182Q348 192 326 192V212Q326 278 262 278Q198 278 198 212V192Q176 192 172 182Q170 170 184 168Z"/><path d="M222 294Q262 312 300 294V322Q262 352 222 322Z"/><path d="M82 428Q95 352 130 340L202 318Q208 332 216 342Q160 376 150 428Z"/><path d="M440 428Q428 352 392 340L322 318Q314 332 306 342Q362 376 372 428Z"/><path d="M172 428Q185 374 232 354Q262 374 292 354Q340 374 352 428Z"/></g></g>
<g transform="translate(221.13 739.99) scale(0.12226 0.12213)"><g fill="#bdd108"><path d="M604 306Q574 262 580 195Q590 85 692 82Q795 85 805 195Q810 262 780 306Q764 314 748 300H640Q620 314 604 306Z"/><path d="M630 226Q690 216 742 176Q762 230 746 276Q726 314 690 314Q650 314 632 276Q624 250 630 226Z" stroke="#fff" stroke-width="13"/><path d="M652 326Q690 338 728 326L732 338Q770 350 792 362Q690 388 588 362Q620 346 650 338Z"/><path d="M572 383Q690 408 812 383Q823 400 825 430H560Q562 400 572 383Z"/></g></g>
<text x="76.8" y="817.6" font-size="18.8" font-weight="700" fill="#202d7a" stroke="#202d7a" stroke-width="0.53" textLength="20.9" lengthAdjust="spacingAndGlyphs">63</text>
<text x="129.0" y="817.6" font-size="18.8" font-weight="700" fill="#202d7a" stroke="#202d7a" stroke-width="0.53" textLength="21.2" lengthAdjust="spacingAndGlyphs">56</text>
<text x="246.0" y="817.6" font-size="18.8" font-weight="700" fill="#bdd108" stroke="#bdd108" stroke-width="0.53" textLength="17.1" lengthAdjust="spacingAndGlyphs">11</text>
<text x="295.8" y="817.6" font-size="18.8" font-weight="700" fill="#bdd108" stroke="#bdd108" stroke-width="0.53" textLength="19.4" lengthAdjust="spacingAndGlyphs">10</text>
<path d="M65.1 830.9V840.3" stroke="#6f6f6e" stroke-width="1.0" fill="none"/><path d="M65.1 826.6L62.1 832.0L68.1 832.0Z" fill="#6f6f6e"/>
<text x="74.4" y="839.1" font-size="13.6" font-weight="400" fill="#767675" stroke="#767675" stroke-width="0.24" textLength="33.2" lengthAdjust="spacingAndGlyphs">13.1%</text>
<path d="M124.1 830.9V840.3" stroke="#6f6f6e" stroke-width="1.0" fill="none"/><path d="M124.1 826.6L121.1 832.0L127.1 832.0Z" fill="#6f6f6e"/>
<text x="132.6" y="839.1" font-size="13.6" font-weight="400" fill="#767675" stroke="#767675" stroke-width="0.24" textLength="28.6" lengthAdjust="spacingAndGlyphs">5.9%</text>
<path d="M231.6 830.9V840.3" stroke="#6f6f6e" stroke-width="1.0" fill="none"/><path d="M231.6 826.6L228.6 832.0L234.6 832.0Z" fill="#6f6f6e"/>
<text x="240.0" y="839.1" font-size="13.6" font-weight="400" fill="#767675" stroke="#767675" stroke-width="0.24" textLength="34.9" lengthAdjust="spacingAndGlyphs">12.6%</text>
<path d="M292.1 830.9V840.3" stroke="#6f6f6e" stroke-width="1.0" fill="none"/><path d="M292.1 826.6L289.1 832.0L295.1 832.0Z" fill="#6f6f6e"/>
<text x="299.4" y="839.1" font-size="13.6" font-weight="400" fill="#767675" stroke="#767675" stroke-width="0.24" textLength="36.6" lengthAdjust="spacingAndGlyphs">14.8%</text>
<text x="99.0" y="869.0" font-size="13.0" font-weight="400" fill="#1d1d1b" stroke="#1d1d1b" stroke-width="0.23" textLength="25.3" lengthAdjust="spacingAndGlyphs">in %</text>
<text x="270.0" y="869.0" font-size="13.0" font-weight="400" fill="#1d1d1b" stroke="#1d1d1b" stroke-width="0.23" textLength="25.3" lengthAdjust="spacingAndGlyphs">in %</text>
<circle cx="86.0" cy="890.1" r="16.6" fill="#202d7a"/><text x="77.3" y="896.1" font-size="16.8" font-weight="700" fill="#fff" stroke="#fff" stroke-width="0.24" textLength="17.0" lengthAdjust="spacingAndGlyphs">13</text>
<circle cx="135.0" cy="890.1" r="16.6" fill="#202d7a"/><text x="126.3" y="896.1" font-size="16.8" font-weight="700" fill="#fff" stroke="#fff" stroke-width="0.24" textLength="17.0" lengthAdjust="spacingAndGlyphs">13</text>
<circle cx="255.3" cy="890.7" r="16.6" fill="#bdd108"/><text x="252.1" y="896.7" font-size="16.8" font-weight="700" fill="#fff" stroke="#fff" stroke-width="0.24" textLength="8.4" lengthAdjust="spacingAndGlyphs">6</text>
<circle cx="304.0" cy="890.7" r="16.6" fill="#bdd108"/><text x="300.8" y="896.7" font-size="16.8" font-weight="700" fill="#fff" stroke="#fff" stroke-width="0.24" textLength="8.4" lengthAdjust="spacingAndGlyphs">7</text>
<circle cx="86.0" cy="938.9" r="16.6" fill="#202d7a"/><text x="77.3" y="944.9" font-size="16.8" font-weight="700" fill="#fff" stroke="#fff" stroke-width="0.24" textLength="17.0" lengthAdjust="spacingAndGlyphs">19</text>
<circle cx="135.0" cy="938.9" r="16.6" fill="#202d7a"/><text x="126.3" y="944.9" font-size="16.8" font-weight="700" fill="#fff" stroke="#fff" stroke-width="0.24" textLength="17.0" lengthAdjust="spacingAndGlyphs">27</text>
<circle cx="255.3" cy="939.5" r="16.6" fill="#bdd108"/><text x="247.8" y="945.5" font-size="16.8" font-weight="700" fill="#fff" stroke="#fff" stroke-width="0.24" textLength="17.0" lengthAdjust="spacingAndGlyphs">16</text>
<circle cx="304.0" cy="939.5" r="16.6" fill="#bdd108"/><text x="296.5" y="945.5" font-size="16.8" font-weight="700" fill="#fff" stroke="#fff" stroke-width="0.24" textLength="17.0" lengthAdjust="spacingAndGlyphs">24</text>
<circle cx="86.0" cy="989.0" r="16.6" fill="#202d7a"/><text x="77.3" y="995.0" font-size="16.8" font-weight="700" fill="#fff" stroke="#fff" stroke-width="0.24" textLength="17.0" lengthAdjust="spacingAndGlyphs">24</text>
<circle cx="135.0" cy="989.0" r="16.6" fill="#202d7a"/><text x="126.3" y="995.0" font-size="16.8" font-weight="700" fill="#fff" stroke="#fff" stroke-width="0.24" textLength="17.0" lengthAdjust="spacingAndGlyphs">28</text>
<circle cx="255.3" cy="989.6" r="16.6" fill="#bdd108"/><text x="247.8" y="995.6" font-size="16.8" font-weight="700" fill="#fff" stroke="#fff" stroke-width="0.24" textLength="17.0" lengthAdjust="spacingAndGlyphs">25</text>
<circle cx="304.0" cy="989.6" r="16.6" fill="#bdd108"/><text x="296.5" y="995.6" font-size="16.8" font-weight="700" fill="#fff" stroke="#fff" stroke-width="0.24" textLength="17.0" lengthAdjust="spacingAndGlyphs">31</text>
<circle cx="86.0" cy="1039.2" r="16.6" fill="#202d7a"/><text x="77.3" y="1045.2" font-size="16.8" font-weight="700" fill="#fff" stroke="#fff" stroke-width="0.24" textLength="17.0" lengthAdjust="spacingAndGlyphs">24</text>
<circle cx="135.0" cy="1039.2" r="16.6" fill="#202d7a"/><text x="126.3" y="1045.2" font-size="16.8" font-weight="700" fill="#fff" stroke="#fff" stroke-width="0.24" textLength="17.0" lengthAdjust="spacingAndGlyphs">23</text>
<circle cx="255.3" cy="1039.8" r="16.6" fill="#bdd108"/><text x="247.8" y="1045.8" font-size="16.8" font-weight="700" fill="#fff" stroke="#fff" stroke-width="0.24" textLength="17.0" lengthAdjust="spacingAndGlyphs">28</text>
<circle cx="304.0" cy="1039.8" r="16.6" fill="#bdd108"/><text x="296.5" y="1045.8" font-size="16.8" font-weight="700" fill="#fff" stroke="#fff" stroke-width="0.24" textLength="17.0" lengthAdjust="spacingAndGlyphs">28</text>
<circle cx="86.0" cy="1089.8" r="16.6" fill="#202d7a"/><text x="77.3" y="1095.8" font-size="16.8" font-weight="700" fill="#fff" stroke="#fff" stroke-width="0.24" textLength="17.0" lengthAdjust="spacingAndGlyphs">21</text>
<circle cx="135.0" cy="1089.8" r="16.6" fill="#202d7a"/><text x="126.3" y="1095.8" font-size="16.8" font-weight="700" fill="#fff" stroke="#fff" stroke-width="0.24" textLength="17.0" lengthAdjust="spacingAndGlyphs">10</text>
<circle cx="255.3" cy="1090.4" r="16.6" fill="#bdd108"/><text x="247.8" y="1096.4" font-size="16.8" font-weight="700" fill="#fff" stroke="#fff" stroke-width="0.24" textLength="17.0" lengthAdjust="spacingAndGlyphs">25</text>
<circle cx="304.0" cy="1090.4" r="16.6" fill="#bdd108"/><text x="296.5" y="1096.4" font-size="16.8" font-weight="700" fill="#fff" stroke="#fff" stroke-width="0.24" textLength="17.0" lengthAdjust="spacingAndGlyphs">10</text>
<text x="179.3" y="886.7" font-size="13.0" font-weight="700" fill="#1d1d1b" stroke="#1d1d1b" stroke-width="0.36" textLength="33.0" lengthAdjust="spacingAndGlyphs">18–24</text>
<text x="181.0" y="900.7" font-size="13.0" font-weight="700" fill="#1d1d1b" stroke="#1d1d1b" stroke-width="0.36" textLength="32.3" lengthAdjust="spacingAndGlyphs">years</text>
<text x="180.0" y="944.3" font-size="13.0" font-weight="700" fill="#1d1d1b" stroke="#1d1d1b" stroke-width="0.36" textLength="33.3" lengthAdjust="spacingAndGlyphs">25–34</text>
<text x="180.0" y="994.3" font-size="13.0" font-weight="700" fill="#1d1d1b" stroke="#1d1d1b" stroke-width="0.36" textLength="35.0" lengthAdjust="spacingAndGlyphs">35–44</text>
<text x="179.3" y="1044.3" font-size="13.0" font-weight="700" fill="#1d1d1b" stroke="#1d1d1b" stroke-width="0.36" textLength="35.7" lengthAdjust="spacingAndGlyphs">45–54</text>
<text x="179.3" y="1086.7" font-size="13.0" font-weight="700" fill="#1d1d1b" stroke="#1d1d1b" stroke-width="0.36" textLength="49.7" lengthAdjust="spacingAndGlyphs">55 years</text>
<text x="175.7" y="1102.3" font-size="13.0" font-weight="700" fill="#1d1d1b" stroke="#1d1d1b" stroke-width="0.36" textLength="56.0" lengthAdjust="spacingAndGlyphs">and more</text>
</g>
<g id="chart1">
<text x="387.9" y="641.3" font-size="17.4" font-weight="700" fill="#1d1d1b" stroke="#1d1d1b" stroke-width="0.39" textLength="411.4" lengthAdjust="spacingAndGlyphs">Indices of the number of the registered unemployed</text>
<text x="514.6" y="666.3" font-size="17.4" font-weight="700" fill="#1d1d1b" stroke="#1d1d1b" stroke-width="0.39" textLength="157.0" lengthAdjust="spacingAndGlyphs">at the end of month</text>
<text x="507.0" y="690.2" font-size="17.2" font-weight="400" fill="#1d1d1b" stroke="#1d1d1b" stroke-width="0.31" textLength="172.7" lengthAdjust="spacingAndGlyphs">(previous month=100)</text>
<path d="M393 706.4H834.6" stroke="#dadada" stroke-width="1.2"/>
<text x="371.1" y="710.9" font-size="10.0" font-weight="400" fill="#1d1d1b" stroke="#1d1d1b" stroke-width="0.18" textLength="13.7" lengthAdjust="spacingAndGlyphs">110</text>
<path d="M393 752.6H834.6" stroke="#dadada" stroke-width="1.2"/>
<text x="369.7" y="755.4" font-size="10.0" font-weight="400" fill="#1d1d1b" stroke="#1d1d1b" stroke-width="0.18" textLength="14.9" lengthAdjust="spacingAndGlyphs">105</text>
<path d="M393 799.0H834.6" stroke="#dadada" stroke-width="1.2"/>
<text x="369.4" y="802.7" font-size="10.0" font-weight="400" fill="#1d1d1b" stroke="#1d1d1b" stroke-width="0.18" textLength="15.2" lengthAdjust="spacingAndGlyphs">100</text>
<path d="M393 845.6H834.6" stroke="#dadada" stroke-width="1.2"/>
<text x="374.7" y="852.1" font-size="10.0" font-weight="400" fill="#1d1d1b" stroke="#1d1d1b" stroke-width="0.18" textLength="9.9" lengthAdjust="spacingAndGlyphs">95</text>
<path d="M393 891.0H834.6" stroke="#dadada" stroke-width="1.2"/>
<text x="374.2" y="893.8" font-size="10.0" font-weight="400" fill="#1d1d1b" stroke="#1d1d1b" stroke-width="0.18" textLength="10.4" lengthAdjust="spacingAndGlyphs">90</text>
<path d="M553.6 891V927" stroke="#dadada" stroke-width="1"/>
<path d="M714.1 891V927" stroke="#dadada" stroke-width="1"/>
<polyline points="399.6,758.2 413.0,795.1 426.4,820.0 439.7,825.6 453.1,816.3 466.5,820.9 479.9,792.3 493.2,796.0 506.6,799.7 520.0,807.1 533.4,802.5 546.7,793.3 560.1,743.4 573.5,794.2 586.9,820.9 600.2,820.9 613.6,813.6 627.0,811.7 640.4,788.2 653.7,791.4 667.1,807.1 680.5,808.9 693.9,797.0 707.2,792.3 720.6,750.8 734.0,789.6 747.4,814.9 760.7,820.0 774.1,820.0 787.5,778.5 800.9,757.3 814.2,765.6 827.6,803.4" fill="none" stroke="#202d7a" stroke-width="4.9" stroke-linejoin="round" stroke-linecap="round"/>
<polyline points="399.6,772.0 413.0,783.1 426.4,808.0 439.7,820.9 453.1,824.6 466.5,839.4 479.9,801.1 493.2,801.1 506.6,803.4 520.0,811.7 533.4,800.2 546.7,811.7 560.1,756.4 573.5,786.8 586.9,782.2 600.2,810.8 613.6,807.1 627.0,810.8 640.4,775.7 653.7,805.3 667.1,811.7 680.5,797.4 693.9,800.6 707.2,807.1 720.6,776.7 734.0,773.9 747.4,794.2 760.7,778.5 774.1,819.1 787.5,782.2 800.9,748.1 814.2,744.4 827.6,839.4" fill="none" stroke="#bdd108" stroke-width="4.9" stroke-linejoin="round" stroke-linecap="round"/>
<circle cx="827.6" cy="803.4" r="5.0" fill="#202d7a"/>
<circle cx="827.6" cy="839.4" r="5.0" fill="#bdd108"/>
<text x="832.6" y="820.6" font-size="13.6" font-weight="700" fill="#202d7a" stroke="#202d7a" stroke-width="0.38" textLength="26.4" lengthAdjust="spacingAndGlyphs">99.5</text>
<text x="832.6" y="859.6" font-size="13.6" font-weight="700" fill="#bdd108" stroke="#bdd108" stroke-width="0.38" textLength="26.4" lengthAdjust="spacingAndGlyphs">95.6</text>
<text x="395.8" y="907.6" font-size="10.0" font-weight="400" fill="#1d1d1b" stroke="#1d1d1b" stroke-width="0.18" textLength="9.6" lengthAdjust="spacingAndGlyphs">01</text>
<text x="409.1" y="907.6" font-size="10.0" font-weight="400" fill="#1d1d1b" stroke="#1d1d1b" stroke-width="0.18" textLength="9.6" lengthAdjust="spacingAndGlyphs">02</text>
<text x="422.4" y="907.6" font-size="10.0" font-weight="400" fill="#1d1d1b" stroke="#1d1d1b" stroke-width="0.18" textLength="9.6" lengthAdjust="spacingAndGlyphs">03</text>
<text x="435.7" y="907.6" font-size="10.0" font-weight="400" fill="#1d1d1b" stroke="#1d1d1b" stroke-width="0.18" textLength="9.6" lengthAdjust="spacingAndGlyphs">04</text>
<text x="449.1" y="907.6" font-size="10.0" font-weight="400" fill="#1d1d1b" stroke="#1d1d1b" stroke-width="0.18" textLength="9.6" lengthAdjust="spacingAndGlyphs">05</text>
<text x="462.4" y="907.6" font-size="10.0" font-weight="400" fill="#1d1d1b" stroke="#1d1d1b" stroke-width="0.18" textLength="9.6" lengthAdjust="spacingAndGlyphs">06</text>
<text x="475.7" y="907.6" font-size="10.0" font-weight="400" fill="#1d1d1b" stroke="#1d1d1b" stroke-width="0.18" textLength="9.6" lengthAdjust="spacingAndGlyphs">07</text>
<text x="489.0" y="907.6" font-size="10.0" font-weight="400" fill="#1d1d1b" stroke="#1d1d1b" stroke-width="0.18" textLength="9.6" lengthAdjust="spacingAndGlyphs">08</text>
<text x="502.3" y="907.6" font-size="10.0" font-weight="400" fill="#1d1d1b" stroke="#1d1d1b" stroke-width="0.18" textLength="9.6" lengthAdjust="spacingAndGlyphs">09</text>
<text x="515.6" y="907.6" font-size="10.0" font-weight="400" fill="#1d1d1b" stroke="#1d1d1b" stroke-width="0.18" textLength="9.6" lengthAdjust="spacingAndGlyphs">10</text>
<text x="529.0" y="907.6" font-size="10.0" font-weight="400" fill="#1d1d1b" stroke="#1d1d1b" stroke-width="0.18" textLength="9.4" lengthAdjust="spacingAndGlyphs">11</text>
<text x="542.2" y="907.6" font-size="10.0" font-weight="400" fill="#1d1d1b" stroke="#1d1d1b" stroke-width="0.18" textLength="9.6" lengthAdjust="spacingAndGlyphs">12</text>
<text x="555.5" y="907.6" font-size="10.0" font-weight="400" fill="#1d1d1b" stroke="#1d1d1b" stroke-width="0.18" textLength="9.6" lengthAdjust="spacingAndGlyphs">01</text>
<text x="568.8" y="907.6" font-size="10.0" font-weight="400" fill="#1d1d1b" stroke="#1d1d1b" stroke-width="0.18" textLength="9.6" lengthAdjust="spacingAndGlyphs">02</text>
<text x="582.2" y="907.6" font-size="10.0" font-weight="400" fill="#1d1d1b" stroke="#1d1d1b" stroke-width="0.18" textLength="9.6" lengthAdjust="spacingAndGlyphs">03</text>
<text x="595.5" y="907.6" font-size="10.0" font-weight="400" fill="#1d1d1b" stroke="#1d1d1b" stroke-width="0.18" textLength="9.6" lengthAdjust="spacingAndGlyphs">04</text>
<text x="608.8" y="907.6" font-size="10.0" font-weight="400" fill="#1d1d1b" stroke="#1d1d1b" stroke-width="0.18" textLength="9.6" lengthAdjust="spacingAndGlyphs">05</text>
<text x="622.1" y="907.6" font-size="10.0" font-weight="400" fill="#1d1d1b" stroke="#1d1d1b" stroke-width="0.18" textLength="9.6" lengthAdjust="spacingAndGlyphs">06</text>
<text x="635.4" y="907.6" font-size="10.0" font-weight="400" fill="#1d1d1b" stroke="#1d1d1b" stroke-width="0.18" textLength="9.6" lengthAdjust="spacingAndGlyphs">07</text>
<text x="648.7" y="907.6" font-size="10.0" font-weight="400" fill="#1d1d1b" stroke="#1d1d1b" stroke-width="0.18" textLength="9.6" lengthAdjust="spacingAndGlyphs">08</text>
<text x="662.0" y="907.6" font-size="10.0" font-weight="400" fill="#1d1d1b" stroke="#1d1d1b" stroke-width="0.18" textLength="9.6" lengthAdjust="spacingAndGlyphs">09</text>
<text x="675.3" y="907.6" font-size="10.0" font-weight="400" fill="#1d1d1b" stroke="#1d1d1b" stroke-width="0.18" textLength="9.6" lengthAdjust="spacingAndGlyphs">10</text>
<text x="688.7" y="907.6" font-size="10.0" font-weight="400" fill="#1d1d1b" stroke="#1d1d1b" stroke-width="0.18" textLength="9.4" lengthAdjust="spacingAndGlyphs">11</text>
<text x="701.9" y="907.6" font-size="10.0" font-weight="400" fill="#1d1d1b" stroke="#1d1d1b" stroke-width="0.18" textLength="9.6" lengthAdjust="spacingAndGlyphs">12</text>
<text x="715.3" y="907.6" font-size="10.0" font-weight="400" fill="#1d1d1b" stroke="#1d1d1b" stroke-width="0.18" textLength="9.6" lengthAdjust="spacingAndGlyphs">01</text>
<text x="728.6" y="907.6" font-size="10.0" font-weight="400" fill="#1d1d1b" stroke="#1d1d1b" stroke-width="0.18" textLength="9.6" lengthAdjust="spacingAndGlyphs">02</text>
<text x="741.9" y="907.6" font-size="10.0" font-weight="400" fill="#1d1d1b" stroke="#1d1d1b" stroke-width="0.18" textLength="9.6" lengthAdjust="spacingAndGlyphs">03</text>
<text x="755.2" y="907.6" font-size="10.0" font-weight="400" fill="#1d1d1b" stroke="#1d1d1b" stroke-width="0.18" textLength="9.6" lengthAdjust="spacingAndGlyphs">04</text>
<text x="768.5" y="907.6" font-size="10.0" font-weight="400" fill="#1d1d1b" stroke="#1d1d1b" stroke-width="0.18" textLength="9.6" lengthAdjust="spacingAndGlyphs">05</text>
<text x="781.8" y="907.6" font-size="10.0" font-weight="400" fill="#1d1d1b" stroke="#1d1d1b" stroke-width="0.18" textLength="9.6" lengthAdjust="spacingAndGlyphs">06</text>
<text x="795.1" y="907.6" font-size="10.0" font-weight="400" fill="#1d1d1b" stroke="#1d1d1b" stroke-width="0.18" textLength="9.6" lengthAdjust="spacingAndGlyphs">07</text>
<text x="808.4" y="907.6" font-size="10.0" font-weight="400" fill="#1d1d1b" stroke="#1d1d1b" stroke-width="0.18" textLength="9.6" lengthAdjust="spacingAndGlyphs">08</text>
<text x="821.7" y="907.6" font-size="10.0" font-weight="400" fill="#1d1d1b" stroke="#1d1d1b" stroke-width="0.18" textLength="9.6" lengthAdjust="spacingAndGlyphs">09</text>
<text x="835.0" y="907.6" font-size="10.0" font-weight="400" fill="#1d1d1b" stroke="#1d1d1b" stroke-width="0.18" textLength="9.6" lengthAdjust="spacingAndGlyphs">10</text>
<text x="460.5" y="928.0" font-size="10.3" font-weight="400" fill="#1d1d1b" stroke="#1d1d1b" stroke-width="0.19" textLength="20.3" lengthAdjust="spacingAndGlyphs">2023</text>
<text x="622.5" y="928.0" font-size="10.3" font-weight="400" fill="#1d1d1b" stroke="#1d1d1b" stroke-width="0.19" textLength="20.3" lengthAdjust="spacingAndGlyphs">2024</text>
<text x="764.7" y="928.0" font-size="10.3" font-weight="400" fill="#1d1d1b" stroke="#1d1d1b" stroke-width="0.19" textLength="20.5" lengthAdjust="spacingAndGlyphs">2025</text>
<path d="M476.8 964.6H504.1" stroke="#202d7a" stroke-width="3.6" stroke-linecap="round"/>
<text x="508.8" y="968.2" font-size="10.3" font-weight="400" fill="#1d1d1b" stroke="#1d1d1b" stroke-width="0.19" textLength="111.2" lengthAdjust="spacingAndGlyphs">Mazowieckie Voivodship</text>
<path d="M659 963.2H685.7" stroke="#bdd108" stroke-width="3.6" stroke-linecap="round"/>
<text x="691.0" y="967.6" font-size="10.3" font-weight="400" fill="#1d1d1b" stroke="#1d1d1b" stroke-width="0.19" textLength="67.9" lengthAdjust="spacingAndGlyphs">m.st. Warszawa</text>
</g>
<g id="rate">
<text x="512.7" y="1014.5" font-size="17.4" font-weight="700" fill="#1d1d1b" stroke="#1d1d1b" stroke-width="0.39" textLength="244.9" lengthAdjust="spacingAndGlyphs">Registered unemployment rate</text>
<text x="639.4" y="1055.5" font-size="13.7" font-weight="400" fill="#1d1d1b" stroke="#1d1d1b" stroke-width="0.25" textLength="213.2" lengthAdjust="spacingAndGlyphs">Powiats with the highest decreases</text>
<text x="718.3" y="1074.0" font-size="13.7" font-weight="400" fill="#1d1d1b" stroke="#1d1d1b" stroke-width="0.25" textLength="134.3" lengthAdjust="spacingAndGlyphs">in unemployment rate</text>
<text x="823.0" y="1094.8" font-size="10.3" font-weight="400" fill="#1d1d1b" stroke="#1d1d1b" stroke-width="0.19" textLength="22.4" lengthAdjust="spacingAndGlyphs">in pp</text>
<text x="745.0" y="1126.0" font-size="13.3" font-weight="400" fill="#1d1d1b" stroke="#1d1d1b" stroke-width="0.24" textLength="66.7" lengthAdjust="spacingAndGlyphs">wyszkowski</text>
<path d="M831.5 1119.7V1128.5" stroke="#6f6f6e" stroke-width="1.0" fill="none"/><path d="M831.5 1115.4L828.5 1120.8L834.5 1120.8Z" fill="#6f6f6e"/>
<text x="841.2" y="1128.1" font-size="14.0" font-weight="400" fill="#838383" stroke="#838383" stroke-width="0.05" textLength="17.8" lengthAdjust="spacingAndGlyphs">1.2</text>
<text x="745.0" y="1160.2" font-size="13.3" font-weight="400" fill="#1d1d1b" stroke="#1d1d1b" stroke-width="0.24" textLength="66.7" lengthAdjust="spacingAndGlyphs">wołomiński</text>
<path d="M831.5 1153.5V1163.0" stroke="#6f6f6e" stroke-width="1.0" fill="none"/><path d="M831.5 1149.2L828.5 1154.6L834.5 1154.6Z" fill="#6f6f6e"/>
<text x="842.6" y="1161.9" font-size="14.0" font-weight="400" fill="#838383" stroke="#838383" stroke-width="0.05" textLength="16.7" lengthAdjust="spacingAndGlyphs">1.1</text>
<text x="748.3" y="1197.0" font-size="13.3" font-weight="400" fill="#1d1d1b" stroke="#1d1d1b" stroke-width="0.24" textLength="63.4" lengthAdjust="spacingAndGlyphs">żuromiński</text>
<path d="M831.5 1187.7V1197.0" stroke="#6f6f6e" stroke-width="1.0" fill="none"/><path d="M831.5 1183.4L828.5 1188.8L834.5 1188.8Z" fill="#6f6f6e"/>
<text x="842.6" y="1195.3" font-size="14.0" font-weight="400" fill="#838383" stroke="#838383" stroke-width="0.05" textLength="16.7" lengthAdjust="spacingAndGlyphs">1.1</text>
<text x="752.0" y="1229.4" font-size="13.3" font-weight="400" fill="#1d1d1b" stroke="#1d1d1b" stroke-width="0.24" textLength="59.7" lengthAdjust="spacingAndGlyphs">m. Siedlce</text>
<path d="M831.5 1220.3V1230.0" stroke="#6f6f6e" stroke-width="1.0" fill="none"/><path d="M831.5 1216.0L828.5 1221.4L834.5 1221.4Z" fill="#6f6f6e"/>
<text x="841.2" y="1229.0" font-size="14.0" font-weight="400" fill="#838383" stroke="#838383" stroke-width="0.05" textLength="18.6" lengthAdjust="spacingAndGlyphs">0.9</text>
<g transform="translate(440 1035) scale(0.14445)" stroke-linejoin="round"><path d="M85 805 L95 800 L125 760 L115 745 L130 700 L125 680 L145 660 L160 615 L185 610 L180 580 L160 560 L150 535 L170 510 L160 465 L185 455 L205 430 L225 440 L250 430 L245 385 L238 350 L270 325 L315 310 L320 285 L345 272 L355 300 L385 310 L440 305 L445 320 L490 315 L530 320 L545 290 L580 250 L620 245 L660 238 L668 210 L700 195 L760 185 L765 165 L800 160 L825 180 L855 150 L900 118 L970 105 L975 80 L1040 72 L1050 110 L1070 150 L1065 175 L1095 185 L1070 200 L1065 225 L1085 270 L1095 310 L1140 325 L1165 350 L1185 345 L1185 375 L1170 395 L1195 410 L1220 420 L1225 445 L1240 490 L1280 490 L1310 475 L1340 470 L1345 495 L1330 510 L1345 540 L1375 550 L1380 530 L1410 535 L1415 580 L1410 610 L1420 640 L1405 650 L1430 680 L1450 720 L1445 750 L1460 790 L1500 810 L1540 805 L1560 820 L1600 815 L1640 810 L1670 830 L1690 860 L1705 860 L1695 885 L1690 900 L1680 930 L1690 945 L1660 955 L1650 980 L1620 1015 L1590 1000 L1550 1010 L1520 1050 L1490 1035 L1460 1040 L1440 1030 L1410 1065 L1380 1055 L1350 1070 L1320 1060 L1290 1075 L1250 1080 L1200 1095 L1195 1130 L1210 1160 L1200 1190 L1225 1205 L1230 1225 L1205 1245 L1185 1260 L1200 1285 L1205 1300 L1170 1320 L1150 1345 L1115 1335 L1105 1350 L1130 1370 L1170 1390 L1190 1400 L1200 1440 L1195 1475 L1170 1485 L1180 1510 L1195 1525 L1185 1560 L1200 1580 L1185 1600 L1180 1650 L1185 1700 L1180 1730 L1150 1745 L1120 1730 L1090 1735 L1050 1760 L1030 1755 L1000 1730 L980 1715 L940 1720 L900 1700 L880 1660 L860 1675 L830 1670 L800 1660 L770 1675 L740 1665 L710 1675 L700 1640 L670 1615 L640 1620 L625 1590 L600 1560 L590 1530 L610 1490 L620 1460 L600 1420 L590 1390 L595 1370 L575 1355 L580 1335 L620 1320 L670 1320 L675 1295 L655 1270 L640 1230 L650 1200 L620 1175 L580 1155 L540 1160 L505 1140 L510 1115 L490 1085 L500 1060 L510 1030 L470 1015 L430 975 L400 940 L360 910 L340 905 L290 925 L240 920 L200 900 L185 890 L140 870 L100 850Z" fill="#a9a9d3" stroke="#3a3a52" stroke-width="4"/><path d="M238 350 L270 325 L315 310 L320 285 L345 272 L355 300 L385 310 L440 305 L430 350 L405 400 L410 450 L420 480 L445 500 L440 530 L400 530 L385 520 L380 490 L330 465 L290 440 L250 430 L245 385Z" fill="#8183bb" stroke="#3a3a52" stroke-width="3.2"/><path d="M160 465 L185 455 L205 430 L225 440 L250 430 L290 440 L330 465 L380 490 L385 520 L380 570 L340 590 L300 610 L270 635 L230 630 L185 610 L180 580 L160 560 L150 535 L170 510Z" fill="#8183bb" stroke="#3a3a52" stroke-width="3.2"/><path d="M440 305 L445 320 L490 315 L530 320 L545 290 L580 250 L620 245 L660 238 L675 280 L685 330 L665 345 L640 350 L620 390 L600 430 L570 470 L540 510 L500 520 L490 500 L460 490 L445 500 L420 480 L410 450 L405 400 L430 350Z" fill="#a9a9d3" stroke="#3a3a52" stroke-width="3.2"/><path d="M660 238 L668 210 L700 195 L760 185 L765 165 L800 160 L825 180 L840 200 L870 210 L880 250 L870 290 L890 320 L860 330 L830 350 L810 380 L815 420 L795 450 L810 470 L780 490 L755 500 L740 470 L710 430 L675 410 L670 380 L685 330 L675 280Z" fill="#a9a9d3" stroke="#3a3a52" stroke-width="3.2"/><path d="M640 350 L665 345 L670 380 L675 410 L710 430 L740 470 L755 500 L775 540 L740 580 L710 600 L690 610 L640 600 L610 615 L570 590 L530 570 L485 545 L500 520 L540 510 L570 470 L600 430 L620 390Z" fill="#a9a9d3" stroke="#3a3a52" stroke-width="3.2"/><path d="M890 320 L860 330 L830 350 L810 380 L815 420 L795 450 L810 470 L780 490 L755 500 L775 540 L810 560 L850 550 L890 565 L940 555 L990 555 L1000 530 L985 480 L995 450 L1005 410 L950 370 L900 345Z" fill="#555a9e" stroke="#3a3a52" stroke-width="3.2"/><path d="M400 530 L440 530 L445 500 L460 490 L490 500 L500 520 L485 545 L530 570 L570 590 L610 615 L640 600 L690 610 L685 650 L690 680 L660 700 L640 740 L630 780 L600 810 L570 830 L500 840 L495 800 L480 750 L465 700 L460 650 L430 620 L410 580 L380 570 L385 520Z" fill="#8183bb" stroke="#3a3a52" stroke-width="3.2"/><path d="M185 610 L230 630 L270 635 L300 610 L340 590 L380 570 L410 580 L430 620 L460 650 L465 700 L480 750 L495 800 L500 840 L440 830 L400 840 L380 870 L370 895 L340 870 L310 850 L270 870 L250 840 L215 820 L210 760 L180 750 L125 760 L115 745 L130 700 L125 680 L145 660 L160 615Z" fill="#8183bb" stroke="#3a3a52" stroke-width="3.2"/><path d="M240 705 L265 695 L285 700 L290 725 L310 740 L295 760 L270 775 L250 770 L245 740Z" fill="#a9a9d3" stroke="#3a3a52" stroke-width="3.2"/><path d="M85 805 L125 760 L180 750 L210 760 L215 820 L250 840 L270 870 L310 850 L340 870 L370 895 L360 910 L340 905 L290 925 L240 920 L200 900 L185 890 L140 870 L100 850Z" fill="#8183bb" stroke="#3a3a52" stroke-width="3.2"/><path d="M695 635 L720 600 L780 560 L810 560 L850 545 L890 565 L950 555 L945 600 L930 640 L910 670 L880 700 L850 715 L820 725 L790 710 L760 680 L725 655Z" fill="#8183bb" stroke="#3a3a52" stroke-width="3.2"/><path d="M900 118 L970 105 L975 80 L1040 72 L1050 110 L1070 150 L1065 175 L1095 185 L1070 200 L1065 225 L1085 270 L1095 310 L1140 325 L1165 350 L1185 345 L1185 375 L1170 395 L1195 410 L1155 430 L1165 460 L1150 450 L1100 465 L1060 475 L1060 500 L1055 520 L1000 530 L985 480 L995 450 L1005 410 L950 370 L900 345 L890 320 L870 290 L880 250 L870 210 L840 200 L855 150Z" fill="#a9a9d3" stroke="#3a3a52" stroke-width="3.2"/><path d="M1025 335 L1050 328 L1075 330 L1070 350 L1055 368 L1030 358Z" fill="#a9a9d3" stroke="#3a3a52" stroke-width="3.2"/><path d="M1060 475 L1100 465 L1150 450 L1165 460 L1155 430 L1195 410 L1220 420 L1225 445 L1240 490 L1280 490 L1310 475 L1340 470 L1345 495 L1330 510 L1345 540 L1375 550 L1380 530 L1410 535 L1415 580 L1410 610 L1420 640 L1405 650 L1380 620 L1340 600 L1300 595 L1260 605 L1240 620 L1220 650 L1200 640 L1190 610 L1160 605 L1120 625 L1100 600 L1105 560 L1085 530 L1060 500Z" fill="#a9a9d3" stroke="#3a3a52" stroke-width="3.2"/><path d="M950 555 L1000 545 L1050 530 L1080 560 L1090 610 L1105 640 L1060 670 L1050 710 L1030 750 L990 765 L950 740 L920 730 L880 735 L860 720 L880 700 L910 670 L930 640 L945 600Z" fill="#cdcee7" stroke="#3a3a52" stroke-width="3.2"/><path d="M1060 670 L1105 640 L1150 620 L1190 610 L1220 650 L1240 680 L1250 720 L1280 750 L1300 770 L1280 810 L1270 850 L1275 880 L1255 915 L1230 930 L1200 940 L1170 910 L1150 880 L1130 850 L1110 820 L1105 800 L1110 770 L1090 740 L1050 710Z" fill="#a9a9d3" stroke="#3a3a52" stroke-width="3.2"/><path d="M1220 650 L1240 620 L1260 605 L1300 595 L1340 600 L1380 620 L1405 650 L1430 680 L1450 720 L1445 750 L1460 790 L1440 830 L1400 850 L1370 870 L1330 860 L1300 870 L1265 870 L1270 850 L1280 820 L1300 790 L1280 760 L1250 720 L1230 690Z" fill="#a9a9d3" stroke="#3a3a52" stroke-width="3.2"/><path d="M1460 790 L1500 810 L1540 805 L1560 820 L1600 815 L1640 810 L1670 830 L1690 860 L1705 860 L1695 885 L1690 900 L1680 930 L1690 945 L1660 955 L1650 980 L1620 1015 L1590 1000 L1550 1010 L1520 1050 L1500 1020 L1480 980 L1500 950 L1510 920 L1530 890 L1520 860 L1500 850 L1470 870 L1440 830Z" fill="#a9a9d3" stroke="#3a3a52" stroke-width="3.2"/><path d="M1200 1095 L1250 1080 L1290 1075 L1320 1060 L1350 1070 L1380 1055 L1410 1065 L1440 1030 L1460 1040 L1490 1035 L1520 1050 L1500 1020 L1480 980 L1500 950 L1510 920 L1530 890 L1520 860 L1500 850 L1470 870 L1430 860 L1400 870 L1365 870 L1350 895 L1325 880 L1275 880 L1255 915 L1230 930 L1225 960 L1210 1020 L1225 1060Z" fill="#a9a9d3" stroke="#3a3a52" stroke-width="3.2"/><path d="M1330 950 L1350 942 L1378 955 L1380 972 L1360 988 L1340 980Z" fill="#cdcee7" stroke="#3a3a52" stroke-width="3.2"/><path d="M580 830 L610 790 L640 750 L660 715 L685 680 L725 655 L760 680 L780 720 L770 750 L730 760 L715 790 L720 820 L740 840 L700 860 L660 875 L630 890 L590 895 L570 870Z" fill="#a9a9d3" stroke="#3a3a52" stroke-width="3.2"/><path d="M715 790 L730 760 L770 750 L780 720 L820 725 L850 715 L860 750 L850 780 L860 820 L855 845 L820 850 L780 845 L740 840 L720 820Z" fill="#a9a9d3" stroke="#3a3a52" stroke-width="3.2"/><path d="M860 750 L880 735 L920 730 L950 740 L990 765 L1030 750 L1050 710 L1090 740 L1110 770 L1105 800 L1110 820 L1070 840 L1030 860 L990 880 L980 900 L930 915 L900 910 L870 895 L860 850 L860 820 L850 780Z" fill="#a9a9d3" stroke="#3a3a52" stroke-width="3.2"/><path d="M930 915 L980 900 L990 880 L1030 860 L1070 840 L1110 820 L1130 850 L1150 880 L1170 910 L1200 940 L1210 980 L1225 1020 L1195 1060 L1190 1095 L1150 1090 L1110 1075 L1070 1070 L1050 1030 L1030 1010 L1010 980 L980 960 L950 945Z" fill="#cdcee7" stroke="#3a3a52" stroke-width="3.2"/><path d="M535 915 L570 870 L590 895 L630 890 L660 875 L700 860 L740 840 L780 845 L770 880 L760 920 L765 950 L740 965 L700 970 L670 980 L630 965 L600 970 L570 950 L545 940Z" fill="#cdcee7" stroke="#3a3a52" stroke-width="3.2"/><path d="M760 920 L770 880 L780 845 L820 850 L855 845 L870 895 L900 910 L930 915 L920 950 L910 980 L890 1000 L850 1025 L820 1020 L800 995 L765 950Z" fill="#cdcee7" stroke="#3a3a52" stroke-width="3.2"/><path d="M370 895 L380 870 L400 840 L440 830 L500 840 L570 830 L580 830 L570 870 L535 915 L545 940 L570 950 L565 980 L535 1000 L510 1030 L470 1015 L430 975 L400 940 L360 910Z" fill="#cdcee7" stroke="#3a3a52" stroke-width="3.2"/><path d="M570 975 L600 970 L630 965 L670 980 L690 1010 L700 1040 L720 1090 L690 1110 L680 1140 L660 1130 L650 1090 L630 1065 L595 1070 L580 1020Z" fill="#cdcee7" stroke="#3a3a52" stroke-width="3.2"/><path d="M670 980 L700 970 L740 965 L765 950 L800 995 L780 1020 L750 1040 L735 1070 L720 1090 L700 1040 L690 1010Z" fill="#cdcee7" stroke="#3a3a52" stroke-width="3.2"/><path d="M720 1090 L735 1070 L750 1040 L780 1020 L800 995 L820 1020 L850 1025 L890 1000 L905 1030 L910 1070 L930 1100 L940 1130 L920 1165 L880 1150 L850 1140 L820 1160 L790 1145 L750 1135 L700 1135 L690 1110Z" fill="#cdcee7" stroke="#3a3a52" stroke-width="3.2"/><path d="M890 1000 L910 980 L920 950 L930 915 L950 945 L980 960 L1010 980 L1030 1010 L1050 1030 L1070 1070 L1050 1100 L1030 1130 L1020 1150 L990 1160 L950 1170 L920 1165 L940 1130 L930 1100 L910 1070 L905 1030Z" fill="#cdcee7" stroke="#3a3a52" stroke-width="3.2"/><path d="M510 1030 L535 1000 L550 1030 L580 1020 L595 1070 L630 1065 L650 1090 L660 1130 L680 1140 L675 1170 L670 1200 L650 1200 L620 1175 L580 1155 L540 1160 L505 1140 L510 1115 L490 1085 L500 1060Z" fill="#a9a9d3" stroke="#3a3a52" stroke-width="3.2"/><path d="M680 1140 L700 1135 L750 1135 L790 1145 L820 1160 L850 1140 L880 1150 L920 1165 L950 1170 L940 1210 L920 1240 L890 1260 L870 1290 L850 1310 L820 1290 L790 1270 L760 1290 L730 1310 L700 1330 L690 1370 L620 1390 L595 1370 L575 1355 L580 1335 L620 1320 L670 1320 L675 1295 L655 1270 L640 1230 L650 1200 L670 1200 L675 1170Z" fill="#cdcee7" stroke="#3a3a52" stroke-width="3.2"/><path d="M950 1170 L990 1160 L1020 1150 L1030 1130 L1050 1100 L1070 1070 L1110 1075 L1150 1090 L1190 1095 L1200 1095 L1195 1130 L1210 1160 L1200 1190 L1225 1205 L1230 1225 L1205 1245 L1185 1260 L1200 1285 L1205 1300 L1170 1320 L1150 1345 L1115 1335 L1085 1340 L1050 1310 L1020 1290 L1000 1250 L980 1220 L950 1200Z" fill="#a9a9d3" stroke="#3a3a52" stroke-width="3.2"/><path d="M890 1260 L920 1240 L940 1210 L950 1200 L980 1220 L1000 1250 L1020 1290 L1050 1310 L1085 1340 L1105 1350 L1130 1370 L1170 1390 L1190 1400 L1200 1440 L1195 1475 L1170 1485 L1150 1460 L1140 1435 L1100 1450 L1070 1470 L1065 1430 L1070 1400 L1050 1395 L1020 1415 L990 1400 L950 1390 L900 1380 L900 1300Z" fill="#a9a9d3" stroke="#3a3a52" stroke-width="3.2"/><path d="M690 1370 L700 1330 L730 1310 L760 1290 L790 1270 L820 1290 L850 1310 L870 1290 L890 1260 L900 1300 L900 1380 L860 1400 L830 1430 L790 1420 L750 1430 L720 1400Z" fill="#a9a9d3" stroke="#3a3a52" stroke-width="3.2"/><path d="M590 1370 L620 1390 L690 1370 L720 1400 L750 1430 L740 1470 L760 1500 L770 1530 L740 1560 L730 1590 L670 1615 L640 1620 L625 1590 L600 1560 L590 1530 L610 1490 L620 1460 L600 1420 L590 1390Z" fill="#555a9e" stroke="#3a3a52" stroke-width="3.2"/><path d="M750 1430 L790 1420 L830 1430 L860 1400 L900 1380 L950 1390 L990 1400 L1020 1415 L1050 1395 L1070 1400 L1065 1430 L1070 1470 L1040 1500 L1010 1530 L990 1550 L985 1580 L980 1620 L1000 1640 L1020 1645 L1000 1660 L980 1680 L970 1715 L940 1720 L900 1700 L880 1660 L860 1675 L860 1650 L845 1620 L850 1580 L830 1550 L800 1535 L770 1530 L760 1500 L740 1470Z" fill="#555a9e" stroke="#3a3a52" stroke-width="3.2"/><path d="M870 1490 L900 1470 L930 1465 L945 1490 L940 1520 L915 1540 L880 1545 L865 1520Z" fill="#8183bb" stroke="#3a3a52" stroke-width="3.2"/><path d="M670 1615 L730 1590 L740 1560 L770 1530 L800 1535 L830 1550 L850 1580 L845 1620 L860 1650 L860 1675 L830 1670 L800 1660 L770 1675 L740 1665 L710 1675 L700 1640Z" fill="#1f2d7a" stroke="#3a3a52" stroke-width="3.2"/><path d="M1070 1470 L1100 1450 L1140 1435 L1150 1460 L1170 1485 L1180 1510 L1195 1525 L1185 1560 L1200 1580 L1160 1575 L1120 1570 L1080 1590 L1050 1590 L1020 1610 L985 1615 L985 1580 L990 1550 L1010 1530 L1040 1500Z" fill="#8183bb" stroke="#3a3a52" stroke-width="3.2"/><path d="M985 1615 L1020 1610 L1050 1590 L1080 1590 L1120 1570 L1160 1575 L1200 1580 L1185 1600 L1180 1650 L1185 1700 L1180 1730 L1150 1745 L1120 1730 L1090 1735 L1050 1760 L1030 1755 L1000 1730 L980 1715 L980 1680 L1000 1660 L1020 1645 L1000 1640 L980 1620Z" fill="#8183bb" stroke="#3a3a52" stroke-width="3.2"/><path d="M85 805 L95 800 L125 760 L115 745 L130 700 L125 680 L145 660 L160 615 L185 610 L180 580 L160 560 L150 535 L170 510 L160 465 L185 455 L205 430 L225 440 L250 430 L245 385 L238 350 L270 325 L315 310 L320 285 L345 272 L355 300 L385 310 L440 305 L445 320 L490 315 L530 320 L545 290 L580 250 L620 245 L660 238 L668 210 L700 195 L760 185 L765 165 L800 160 L825 180 L855 150 L900 118 L970 105 L975 80 L1040 72 L1050 110 L1070 150 L1065 175 L1095 185 L1070 200 L1065 225 L1085 270 L1095 310 L1140 325 L1165 350 L1185 345 L1185 375 L1170 395 L1195 410 L1220 420 L1225 445 L1240 490 L1280 490 L1310 475 L1340 470 L1345 495 L1330 510 L1345 540 L1375 550 L1380 530 L1410 535 L1415 580 L1410 610 L1420 640 L1405 650 L1430 680 L1450 720 L1445 750 L1460 790 L1500 810 L1540 805 L1560 820 L1600 815 L1640 810 L1670 830 L1690 860 L1705 860 L1695 885 L1690 900 L1680 930 L1690 945 L1660 955 L1650 980 L1620 1015 L1590 1000 L1550 1010 L1520 1050 L1490 1035 L1460 1040 L1440 1030 L1410 1065 L1380 1055 L1350 1070 L1320 1060 L1290 1075 L1250 1080 L1200 1095 L1195 1130 L1210 1160 L1200 1190 L1225 1205 L1230 1225 L1205 1245 L1185 1260 L1200 1285 L1205 1300 L1170 1320 L1150 1345 L1115 1335 L1105 1350 L1130 1370 L1170 1390 L1190 1400 L1200 1440 L1195 1475 L1170 1485 L1180 1510 L1195 1525 L1185 1560 L1200 1580 L1185 1600 L1180 1650 L1185 1700 L1180 1730 L1150 1745 L1120 1730 L1090 1735 L1050 1760 L1030 1755 L1000 1730 L980 1715 L940 1720 L900 1700 L880 1660 L860 1675 L830 1670 L800 1660 L770 1675 L740 1665 L710 1675 L700 1640 L670 1615 L640 1620 L625 1590 L600 1560 L590 1530 L610 1490 L620 1460 L600 1420 L590 1390 L595 1370 L575 1355 L580 1335 L620 1320 L670 1320 L675 1295 L655 1270 L640 1230 L650 1200 L620 1175 L580 1155 L540 1160 L505 1140 L510 1115 L490 1085 L500 1060 L510 1030 L470 1015 L430 975 L400 940 L360 910 L340 905 L290 925 L240 920 L200 900 L185 890 L140 870 L100 850Z" fill="none" stroke="#3a3a52" stroke-width="4.2"/></g>
<text x="482.3" y="1208.5" font-size="10.3" font-weight="400" fill="#1d1d1b" stroke="#1d1d1b" stroke-width="0.19" textLength="19.1" lengthAdjust="spacingAndGlyphs">in %</text>
<circle cx="458" cy="1215.3" r="5.3" fill="#1f2d7a" stroke="#34344e" stroke-width="0.8"/>
<text x="466.5" y="1219.6" font-size="10.3" font-weight="400" fill="#1d1d1b" stroke="#1d1d1b" stroke-width="0.19" textLength="17.2" lengthAdjust="spacingAndGlyphs">20.0</text>
<text x="486.3" y="1219.6" font-size="10.3" font-weight="400" fill="#1d1d1b" stroke="#1d1d1b" stroke-width="0.19" textLength="4.9" lengthAdjust="spacingAndGlyphs">–</text>
<text x="494.2" y="1219.6" font-size="10.3" font-weight="400" fill="#1d1d1b" stroke="#1d1d1b" stroke-width="0.19" textLength="17.6" lengthAdjust="spacingAndGlyphs">21.7</text>
<circle cx="458" cy="1230.8" r="5.3" fill="#555a9e" stroke="#34344e" stroke-width="0.8"/>
<text x="466.8" y="1235.1" font-size="10.3" font-weight="400" fill="#1d1d1b" stroke="#1d1d1b" stroke-width="0.19" textLength="17.2" lengthAdjust="spacingAndGlyphs">15.0</text>
<text x="486.3" y="1235.1" font-size="10.3" font-weight="400" fill="#1d1d1b" stroke="#1d1d1b" stroke-width="0.19" textLength="4.9" lengthAdjust="spacingAndGlyphs">–</text>
<text x="495.6" y="1235.1" font-size="10.3" font-weight="400" fill="#1d1d1b" stroke="#1d1d1b" stroke-width="0.19" textLength="17.3" lengthAdjust="spacingAndGlyphs">19.9</text>
<circle cx="458" cy="1247.0" r="5.3" fill="#8183bb" stroke="#34344e" stroke-width="0.8"/>
<text x="466.8" y="1251.3" font-size="10.3" font-weight="400" fill="#1d1d1b" stroke="#1d1d1b" stroke-width="0.19" textLength="17.2" lengthAdjust="spacingAndGlyphs">10.0</text>
<text x="486.3" y="1251.3" font-size="10.3" font-weight="400" fill="#1d1d1b" stroke="#1d1d1b" stroke-width="0.19" textLength="4.9" lengthAdjust="spacingAndGlyphs">–</text>
<text x="495.6" y="1251.3" font-size="10.3" font-weight="400" fill="#1d1d1b" stroke="#1d1d1b" stroke-width="0.19" textLength="17.3" lengthAdjust="spacingAndGlyphs">14.9</text>
<circle cx="458" cy="1263.5" r="5.3" fill="#a9a9d3" stroke="#34344e" stroke-width="0.8"/>
<text x="471.5" y="1267.8" font-size="10.3" font-weight="400" fill="#1d1d1b" stroke="#1d1d1b" stroke-width="0.19" textLength="12.3" lengthAdjust="spacingAndGlyphs">5.0</text>
<text x="486.3" y="1267.8" font-size="10.3" font-weight="400" fill="#1d1d1b" stroke="#1d1d1b" stroke-width="0.19" textLength="4.9" lengthAdjust="spacingAndGlyphs">–</text>
<text x="501.0" y="1267.8" font-size="10.3" font-weight="400" fill="#1d1d1b" stroke="#1d1d1b" stroke-width="0.19" textLength="12.3" lengthAdjust="spacingAndGlyphs">9.9</text>
<circle cx="458" cy="1279.0" r="5.3" fill="#cfd0e8" stroke="#34344e" stroke-width="0.8"/>
<text x="472.0" y="1283.3" font-size="10.3" font-weight="400" fill="#1d1d1b" stroke="#1d1d1b" stroke-width="0.19" textLength="12.3" lengthAdjust="spacingAndGlyphs">1.6</text>
<text x="486.3" y="1283.3" font-size="10.3" font-weight="400" fill="#1d1d1b" stroke="#1d1d1b" stroke-width="0.19" textLength="4.9" lengthAdjust="spacingAndGlyphs">–</text>
<text x="501.0" y="1283.3" font-size="10.3" font-weight="400" fill="#1d1d1b" stroke="#1d1d1b" stroke-width="0.19" textLength="12.3" lengthAdjust="spacingAndGlyphs">4.9</text>
<text x="434.7" y="1319.3" font-size="13.7" font-weight="400" fill="#1d1d1b" stroke="#1d1d1b" stroke-width="0.25" textLength="159.6" lengthAdjust="spacingAndGlyphs">Powiats with the highest</text>
<text x="465.7" y="1340.0" font-size="13.7" font-weight="400" fill="#1d1d1b" stroke="#1d1d1b" stroke-width="0.25" textLength="128.6" lengthAdjust="spacingAndGlyphs">unemployment rate</text>
<text x="529.3" y="1360.5" font-size="10.2" font-weight="400" fill="#1d1d1b" stroke="#1d1d1b" stroke-width="0.18" textLength="18.6" lengthAdjust="spacingAndGlyphs">in %</text>
<text x="560.6" y="1360.5" font-size="10.2" font-weight="400" fill="#1d1d1b" stroke="#1d1d1b" stroke-width="0.18" textLength="22.4" lengthAdjust="spacingAndGlyphs">in pp</text>
<defs>
<clipPath id="cc0"><circle cx="539.8" cy="1389.8" r="16.4"/></clipPath>
<clipPath id="cc1"><circle cx="539.8" cy="1427.0" r="16.4"/></clipPath>
<clipPath id="cc2"><circle cx="539.8" cy="1464.8" r="16.4"/></clipPath>
</defs>
<circle cx="539.8" cy="1389.8" r="16.4" fill="#1f2d7a"/>
<text x="525.4" y="1395.2" font-size="17.4" font-weight="700" fill="#fff" stroke="#fff" stroke-width="0.49" textLength="29.1" lengthAdjust="spacingAndGlyphs" clip-path="url(#cc0)">21.7</text>
<text x="439.0" y="1392.7" font-size="13.3" font-weight="400" fill="#1d1d1b" stroke="#1d1d1b" stroke-width="0.24" textLength="73.6" lengthAdjust="spacingAndGlyphs">szydłowiecki</text>
<path d="M574.5 1384.0V1392.1" stroke="#6f6f6e" stroke-width="1.0" fill="none"/><path d="M574.5 1396.4L571.5 1391.0L577.5 1391.0Z" fill="#6f6f6e"/>
<text x="584.6" y="1392.3" font-size="14.0" font-weight="400" fill="#838383" stroke="#838383" stroke-width="0.05" textLength="16.7" lengthAdjust="spacingAndGlyphs">1.6</text>
<circle cx="539.8" cy="1427.0" r="16.4" fill="#565b9f"/>
<text x="527.6" y="1432.6" font-size="17.4" font-weight="700" fill="#fff" stroke="#fff" stroke-width="0.49" textLength="31.0" lengthAdjust="spacingAndGlyphs" clip-path="url(#cc1)">18.2</text>
<text x="458.6" y="1432.3" font-size="13.3" font-weight="400" fill="#1d1d1b" stroke="#1d1d1b" stroke-width="0.24" textLength="54.0" lengthAdjust="spacingAndGlyphs">przysuski</text>
<path d="M574.5 1425.1V1433.8" stroke="#6f6f6e" stroke-width="1.0" fill="none"/><path d="M574.5 1420.8L571.5 1426.2L577.5 1426.2Z" fill="#6f6f6e"/>
<text x="583.3" y="1431.4" font-size="14.0" font-weight="400" fill="#838383" stroke="#838383" stroke-width="0.05" textLength="18.1" lengthAdjust="spacingAndGlyphs">0.2</text>
<circle cx="539.8" cy="1464.8" r="16.4" fill="#565b9f"/>
<text x="527.6" y="1470.4" font-size="17.4" font-weight="700" fill="#fff" stroke="#fff" stroke-width="0.49" textLength="31.0" lengthAdjust="spacingAndGlyphs" clip-path="url(#cc2)">16.8</text>
<text x="458.6" y="1470.4" font-size="13.3" font-weight="400" fill="#1d1d1b" stroke="#1d1d1b" stroke-width="0.24" textLength="54.0" lengthAdjust="spacingAndGlyphs">radomski</text>
<path d="M574.5 1459.8V1468.5" stroke="#6f6f6e" stroke-width="1.0" fill="none"/><path d="M574.5 1455.5L571.5 1460.9L577.5 1460.9Z" fill="#6f6f6e"/>
<text x="583.3" y="1466.9" font-size="14.0" font-weight="400" fill="#838383" stroke="#838383" stroke-width="0.05" textLength="18.1" lengthAdjust="spacingAndGlyphs">0.6</text>
<text x="705.3" y="1318.8" font-size="13.7" font-weight="400" fill="#1d1d1b" stroke="#1d1d1b" stroke-width="0.25" textLength="153.9" lengthAdjust="spacingAndGlyphs">Powiats with the lowest</text>
<text x="730.7" y="1339.9" font-size="13.7" font-weight="400" fill="#1d1d1b" stroke="#1d1d1b" stroke-width="0.25" textLength="128.5" lengthAdjust="spacingAndGlyphs">unemployment rate</text>
<text x="797.9" y="1360.5" font-size="10.2" font-weight="400" fill="#1d1d1b" stroke="#1d1d1b" stroke-width="0.18" textLength="18.6" lengthAdjust="spacingAndGlyphs">in %</text>
<text x="825.9" y="1360.5" font-size="10.2" font-weight="400" fill="#1d1d1b" stroke="#1d1d1b" stroke-width="0.18" textLength="22.6" lengthAdjust="spacingAndGlyphs">in pp</text>
<circle cx="807.2" cy="1388.7" r="16.5" fill="#bdd108"/>
<text x="796.9" y="1394.2" font-size="17.4" font-weight="700" fill="#1d1d1b" stroke="#1d1d1b" stroke-width="0.49" textLength="20.8" lengthAdjust="spacingAndGlyphs">1.6</text>
<text x="691.5" y="1391.9" font-size="13.3" font-weight="400" fill="#1d1d1b" stroke="#1d1d1b" stroke-width="0.24" textLength="87.7" lengthAdjust="spacingAndGlyphs">m.st. Warszawa</text>
<path d="M839.5 1385.0V1394.5" stroke="#6f6f6e" stroke-width="1.0" fill="none"/><path d="M839.5 1380.7L836.5 1386.1L842.5 1386.1Z" fill="#6f6f6e"/>
<text x="849.9" y="1392.8" font-size="14.0" font-weight="400" fill="#838383" stroke="#838383" stroke-width="0.05" textLength="17.6" lengthAdjust="spacingAndGlyphs">0.2</text>
<circle cx="807.2" cy="1426.0" r="16.5" fill="#cfd0e8"/>
<text x="800.9" y="1431.5" font-size="17.4" font-weight="700" fill="#1d1d1b" stroke="#1d1d1b" stroke-width="0.49" textLength="20.8" lengthAdjust="spacingAndGlyphs">1.9</text>
<text x="655.2" y="1430.8" font-size="13.3" font-weight="400" fill="#1d1d1b" stroke="#1d1d1b" stroke-width="0.24" textLength="124.0" lengthAdjust="spacingAndGlyphs">warszawski zachodni</text>
<path d="M839.5 1422.8V1432.7" stroke="#6f6f6e" stroke-width="1.0" fill="none"/><path d="M839.5 1418.5L836.5 1423.9L842.5 1423.9Z" fill="#6f6f6e"/>
<text x="849.9" y="1430.4" font-size="14.0" font-weight="400" fill="#838383" stroke="#838383" stroke-width="0.05" textLength="17.6" lengthAdjust="spacingAndGlyphs">0.3</text>
<circle cx="807.2" cy="1463.9" r="16.5" fill="#cfd0e8"/>
<text x="799.5" y="1469.4" font-size="17.4" font-weight="700" fill="#1d1d1b" stroke="#1d1d1b" stroke-width="0.49" textLength="22.6" lengthAdjust="spacingAndGlyphs">2.6</text>
<text x="708.8" y="1469.2" font-size="13.3" font-weight="400" fill="#1d1d1b" stroke="#1d1d1b" stroke-width="0.24" textLength="70.4" lengthAdjust="spacingAndGlyphs">pruszkowski</text>
<path d="M839.5 1461.0V1470.0" stroke="#6f6f6e" stroke-width="1.0" fill="none"/><path d="M839.5 1456.7L836.5 1462.1L842.5 1462.1Z" fill="#6f6f6e"/>
<text x="849.9" y="1468.3" font-size="14.0" font-weight="400" fill="#838383" stroke="#838383" stroke-width="0.05" textLength="17.6" lengthAdjust="spacingAndGlyphs">0,4</text>
</g>
<g id="chart2">
<text x="393.0" y="1511.0" font-size="10.3" font-weight="400" fill="#1d1d1b" stroke="#1d1d1b" stroke-width="0.19" textLength="8.0" lengthAdjust="spacingAndGlyphs">%</text>
<path d="M408.1 1525.3H838" stroke="#dadada" stroke-width="1.2"/>
<text x="392.1" y="1527.7" font-size="10.0" font-weight="400" fill="#1d1d1b" stroke="#1d1d1b" stroke-width="0.18" textLength="5.4" lengthAdjust="spacingAndGlyphs">6</text>
<path d="M408.1 1563.5H838" stroke="#dadada" stroke-width="1.2"/>
<text x="392.1" y="1565.3" font-size="10.0" font-weight="400" fill="#1d1d1b" stroke="#1d1d1b" stroke-width="0.18" textLength="5.4" lengthAdjust="spacingAndGlyphs">4</text>
<path d="M408.1 1600.8H838" stroke="#dadada" stroke-width="1.2"/>
<text x="392.1" y="1604.7" font-size="10.0" font-weight="400" fill="#1d1d1b" stroke="#1d1d1b" stroke-width="0.18" textLength="5.4" lengthAdjust="spacingAndGlyphs">2</text>
<path d="M408.1 1637.7H838" stroke="#dadada" stroke-width="1.2"/>
<text x="392.1" y="1641.9" font-size="10.0" font-weight="400" fill="#1d1d1b" stroke="#1d1d1b" stroke-width="0.18" textLength="5.4" lengthAdjust="spacingAndGlyphs">0</text>
<path d="M563.6 1638.2V1676.3" stroke="#dadada" stroke-width="1"/>
<path d="M719.1 1638.2V1676.3" stroke="#dadada" stroke-width="1"/>
<polyline points="415.4,1553.4 428.4,1553.4 441.4,1554.7 454.4,1557.2 467.4,1559.0 480.4,1560.9 493.4,1560.9 506.4,1560.9 519.4,1560.9 532.4,1560.9 545.4,1560.9 558.4,1562.8 571.4,1557.2 584.4,1557.2 597.4,1559.0 610.4,1560.9 623.4,1560.9 636.4,1562.8 649.4,1560.9 662.4,1560.9 675.4,1562.8 688.4,1562.8 701.4,1562.8 714.4,1562.8 727.4,1559.0 740.4,1559.0 753.4,1559.0 766.4,1560.9 779.4,1563.5 792.4,1560.4 805.4,1555.7 818.4,1553.4 831.4,1553.4" fill="none" stroke="#202d7a" stroke-width="4.3" stroke-linejoin="round" stroke-linecap="round"/>
<polyline points="415.4,1607.8 428.4,1607.8 441.4,1607.8 454.4,1609.7 467.4,1609.7 480.4,1611.5 493.4,1611.5 506.4,1611.5 519.4,1611.5 532.4,1611.5 545.4,1611.5 558.4,1612.9 571.4,1611.5 584.4,1611.5 597.4,1611.5 610.4,1611.5 623.4,1611.5 636.4,1611.5 649.4,1611.5 662.4,1611.5 675.4,1611.5 688.4,1611.5 701.4,1611.5 714.4,1611.5 727.4,1611.5 740.4,1611.5 753.4,1611.5 766.4,1609.7 779.4,1612.1 792.4,1609.7 805.4,1607.0 818.4,1605.0 831.4,1607.8" fill="none" stroke="#bdd108" stroke-width="4.3" stroke-linejoin="round" stroke-linecap="round"/>
<circle cx="831.5" cy="1553.6" r="4.9" fill="#202d7a"/>
<circle cx="831.5" cy="1607.9" r="4.9" fill="#bdd108"/>
<text x="817.9" y="1542.0" font-size="17.4" font-weight="700" fill="#202d7a" stroke="#202d7a" stroke-width="0.49" textLength="22.2" lengthAdjust="spacingAndGlyphs">4.4</text>
<text x="822.4" y="1592.0" font-size="17.4" font-weight="700" fill="#bdd108" stroke="#bdd108" stroke-width="0.49" textLength="20.8" lengthAdjust="spacingAndGlyphs">1.6</text>
<text x="409.3" y="1651.6" font-size="10.0" font-weight="400" fill="#1d1d1b" stroke="#1d1d1b" stroke-width="0.18" textLength="9.6" lengthAdjust="spacingAndGlyphs">01</text>
<text x="422.3" y="1651.6" font-size="10.0" font-weight="400" fill="#1d1d1b" stroke="#1d1d1b" stroke-width="0.18" textLength="9.6" lengthAdjust="spacingAndGlyphs">02</text>
<text x="435.4" y="1651.6" font-size="10.0" font-weight="400" fill="#1d1d1b" stroke="#1d1d1b" stroke-width="0.18" textLength="9.6" lengthAdjust="spacingAndGlyphs">03</text>
<text x="448.4" y="1651.6" font-size="10.0" font-weight="400" fill="#1d1d1b" stroke="#1d1d1b" stroke-width="0.18" textLength="9.6" lengthAdjust="spacingAndGlyphs">04</text>
<text x="461.4" y="1651.6" font-size="10.0" font-weight="400" fill="#1d1d1b" stroke="#1d1d1b" stroke-width="0.18" textLength="9.6" lengthAdjust="spacingAndGlyphs">05</text>
<text x="474.5" y="1651.6" font-size="10.0" font-weight="400" fill="#1d1d1b" stroke="#1d1d1b" stroke-width="0.18" textLength="9.6" lengthAdjust="spacingAndGlyphs">06</text>
<text x="487.5" y="1651.6" font-size="10.0" font-weight="400" fill="#1d1d1b" stroke="#1d1d1b" stroke-width="0.18" textLength="9.6" lengthAdjust="spacingAndGlyphs">07</text>
<text x="500.5" y="1651.6" font-size="10.0" font-weight="400" fill="#1d1d1b" stroke="#1d1d1b" stroke-width="0.18" textLength="9.6" lengthAdjust="spacingAndGlyphs">08</text>
<text x="513.6" y="1651.6" font-size="10.0" font-weight="400" fill="#1d1d1b" stroke="#1d1d1b" stroke-width="0.18" textLength="9.6" lengthAdjust="spacingAndGlyphs">09</text>
<text x="526.6" y="1651.6" font-size="10.0" font-weight="400" fill="#1d1d1b" stroke="#1d1d1b" stroke-width="0.18" textLength="9.6" lengthAdjust="spacingAndGlyphs">10</text>
<text x="539.7" y="1651.6" font-size="10.0" font-weight="400" fill="#1d1d1b" stroke="#1d1d1b" stroke-width="0.18" textLength="9.4" lengthAdjust="spacingAndGlyphs">11</text>
<text x="552.6" y="1651.6" font-size="10.0" font-weight="400" fill="#1d1d1b" stroke="#1d1d1b" stroke-width="0.18" textLength="9.6" lengthAdjust="spacingAndGlyphs">12</text>
<text x="565.7" y="1651.6" font-size="10.0" font-weight="400" fill="#1d1d1b" stroke="#1d1d1b" stroke-width="0.18" textLength="9.6" lengthAdjust="spacingAndGlyphs">01</text>
<text x="578.7" y="1651.6" font-size="10.0" font-weight="400" fill="#1d1d1b" stroke="#1d1d1b" stroke-width="0.18" textLength="9.6" lengthAdjust="spacingAndGlyphs">02</text>
<text x="591.7" y="1651.6" font-size="10.0" font-weight="400" fill="#1d1d1b" stroke="#1d1d1b" stroke-width="0.18" textLength="9.6" lengthAdjust="spacingAndGlyphs">03</text>
<text x="604.8" y="1651.6" font-size="10.0" font-weight="400" fill="#1d1d1b" stroke="#1d1d1b" stroke-width="0.18" textLength="9.6" lengthAdjust="spacingAndGlyphs">04</text>
<text x="617.8" y="1651.6" font-size="10.0" font-weight="400" fill="#1d1d1b" stroke="#1d1d1b" stroke-width="0.18" textLength="9.6" lengthAdjust="spacingAndGlyphs">05</text>
<text x="630.8" y="1651.6" font-size="10.0" font-weight="400" fill="#1d1d1b" stroke="#1d1d1b" stroke-width="0.18" textLength="9.6" lengthAdjust="spacingAndGlyphs">06</text>
<text x="643.9" y="1651.6" font-size="10.0" font-weight="400" fill="#1d1d1b" stroke="#1d1d1b" stroke-width="0.18" textLength="9.6" lengthAdjust="spacingAndGlyphs">07</text>
<text x="656.9" y="1651.6" font-size="10.0" font-weight="400" fill="#1d1d1b" stroke="#1d1d1b" stroke-width="0.18" textLength="9.6" lengthAdjust="spacingAndGlyphs">08</text>
<text x="669.9" y="1651.6" font-size="10.0" font-weight="400" fill="#1d1d1b" stroke="#1d1d1b" stroke-width="0.18" textLength="9.6" lengthAdjust="spacingAndGlyphs">09</text>
<text x="682.9" y="1651.6" font-size="10.0" font-weight="400" fill="#1d1d1b" stroke="#1d1d1b" stroke-width="0.18" textLength="9.6" lengthAdjust="spacingAndGlyphs">10</text>
<text x="696.1" y="1651.6" font-size="10.0" font-weight="400" fill="#1d1d1b" stroke="#1d1d1b" stroke-width="0.18" textLength="9.4" lengthAdjust="spacingAndGlyphs">11</text>
<text x="709.0" y="1651.6" font-size="10.0" font-weight="400" fill="#1d1d1b" stroke="#1d1d1b" stroke-width="0.18" textLength="9.6" lengthAdjust="spacingAndGlyphs">12</text>
<text x="722.0" y="1651.6" font-size="10.0" font-weight="400" fill="#1d1d1b" stroke="#1d1d1b" stroke-width="0.18" textLength="9.6" lengthAdjust="spacingAndGlyphs">01</text>
<text x="735.1" y="1651.6" font-size="10.0" font-weight="400" fill="#1d1d1b" stroke="#1d1d1b" stroke-width="0.18" textLength="9.6" lengthAdjust="spacingAndGlyphs">02</text>
<text x="748.1" y="1651.6" font-size="10.0" font-weight="400" fill="#1d1d1b" stroke="#1d1d1b" stroke-width="0.18" textLength="9.6" lengthAdjust="spacingAndGlyphs">03</text>
<text x="761.1" y="1651.6" font-size="10.0" font-weight="400" fill="#1d1d1b" stroke="#1d1d1b" stroke-width="0.18" textLength="9.6" lengthAdjust="spacingAndGlyphs">04</text>
<text x="774.2" y="1651.6" font-size="10.0" font-weight="400" fill="#1d1d1b" stroke="#1d1d1b" stroke-width="0.18" textLength="9.6" lengthAdjust="spacingAndGlyphs">05</text>
<text x="787.2" y="1651.6" font-size="10.0" font-weight="400" fill="#1d1d1b" stroke="#1d1d1b" stroke-width="0.18" textLength="9.6" lengthAdjust="spacingAndGlyphs">06</text>
<text x="800.2" y="1651.6" font-size="10.0" font-weight="400" fill="#1d1d1b" stroke="#1d1d1b" stroke-width="0.18" textLength="9.6" lengthAdjust="spacingAndGlyphs">07</text>
<text x="813.2" y="1651.6" font-size="10.0" font-weight="400" fill="#1d1d1b" stroke="#1d1d1b" stroke-width="0.18" textLength="9.6" lengthAdjust="spacingAndGlyphs">08</text>
<text x="826.3" y="1651.6" font-size="10.0" font-weight="400" fill="#1d1d1b" stroke="#1d1d1b" stroke-width="0.18" textLength="9.6" lengthAdjust="spacingAndGlyphs">09</text>
<text x="474.6" y="1677.3" font-size="10.3" font-weight="400" fill="#1d1d1b" stroke="#1d1d1b" stroke-width="0.19" textLength="20.5" lengthAdjust="spacingAndGlyphs">2023</text>
<text x="631.0" y="1677.3" font-size="10.3" font-weight="400" fill="#1d1d1b" stroke="#1d1d1b" stroke-width="0.19" textLength="20.2" lengthAdjust="spacingAndGlyphs">2024</text>
<text x="769.4" y="1677.3" font-size="10.3" font-weight="400" fill="#1d1d1b" stroke="#1d1d1b" stroke-width="0.19" textLength="20.5" lengthAdjust="spacingAndGlyphs">2025</text>
<path d="M503.6 1702.8H530.9" stroke="#202d7a" stroke-width="3.6" stroke-linecap="round"/>
<text x="535.5" y="1706.7" font-size="10.3" font-weight="400" fill="#1d1d1b" stroke="#1d1d1b" stroke-width="0.19" textLength="111.4" lengthAdjust="spacingAndGlyphs">Mazowieckie Voivodship</text>
<path d="M685.9 1701.6H712.7" stroke="#bdd108" stroke-width="3.6" stroke-linecap="round"/>
<text x="717.6" y="1706.1" font-size="10.3" font-weight="400" fill="#1d1d1b" stroke="#1d1d1b" stroke-width="0.19" textLength="67.9" lengthAdjust="spacingAndGlyphs">m.st. Warszawa</text>
</g>
<g id="regions">
<text x="59.3" y="1198.3" font-size="17.4" font-weight="700" fill="#1d1d1b" stroke="#1d1d1b" stroke-width="0.39" textLength="263.4" lengthAdjust="spacingAndGlyphs">Stopa bezrobocia rejestrowanego</text>
<text x="66.7" y="1217.7" font-size="17.2" font-weight="400" fill="#1d1d1b" stroke="#1d1d1b" stroke-width="0.31" textLength="254.3" lengthAdjust="spacingAndGlyphs">w regionach woj. mazowieckiego</text>
<g transform="translate(50.41 1248.00) scale(0.07519 0.07500)"><path d="M85 805 L95 800 L125 760 L115 745 L130 700 L125 680 L145 660 L160 615 L185 610 L180 580 L160 560 L150 535 L170 510 L160 465 L185 455 L205 430 L225 440 L250 430 L245 385 L238 350 L270 325 L315 310 L320 285 L345 272 L355 300 L385 310 L440 305 L445 320 L490 315 L530 320 L545 290 L580 250 L620 245 L660 238 L668 210 L700 195 L760 185 L765 165 L800 160 L825 180 L855 150 L900 118 L970 105 L975 80 L1040 72 L1050 110 L1070 150 L1065 175 L1095 185 L1070 200 L1065 225 L1085 270 L1095 310 L1140 325 L1165 350 L1185 345 L1185 375 L1170 395 L1195 410 L1220 420 L1225 445 L1240 490 L1280 490 L1310 475 L1340 470 L1345 495 L1330 510 L1345 540 L1375 550 L1380 530 L1410 535 L1415 580 L1410 610 L1420 640 L1405 650 L1430 680 L1450 720 L1445 750 L1460 790 L1500 810 L1540 805 L1560 820 L1600 815 L1640 810 L1670 830 L1690 860 L1705 860 L1695 885 L1690 900 L1680 930 L1690 945 L1660 955 L1650 980 L1620 1015 L1590 1000 L1550 1010 L1520 1050 L1490 1035 L1460 1040 L1440 1030 L1410 1065 L1380 1055 L1350 1070 L1320 1060 L1290 1075 L1250 1080 L1200 1095 L1195 1130 L1210 1160 L1200 1190 L1225 1205 L1230 1225 L1205 1245 L1185 1260 L1200 1285 L1205 1300 L1170 1320 L1150 1345 L1115 1335 L1105 1350 L1130 1370 L1170 1390 L1190 1400 L1200 1440 L1195 1475 L1170 1485 L1180 1510 L1195 1525 L1185 1560 L1200 1580 L1185 1600 L1180 1650 L1185 1700 L1180 1730 L1150 1745 L1120 1730 L1090 1735 L1050 1760 L1030 1755 L1000 1730 L980 1715 L940 1720 L900 1700 L880 1660 L860 1675 L830 1670 L800 1660 L770 1675 L740 1665 L710 1675 L700 1640 L670 1615 L640 1620 L625 1590 L600 1560 L590 1530 L610 1490 L620 1460 L600 1420 L590 1390 L595 1370 L575 1355 L580 1335 L620 1320 L670 1320 L675 1295 L655 1270 L640 1230 L650 1200 L620 1175 L580 1155 L540 1160 L505 1140 L510 1115 L490 1085 L500 1060 L510 1030 L470 1015 L430 975 L400 940 L360 910 L340 905 L290 925 L240 920 L200 900 L185 890 L140 870 L100 850 Z" fill="#a9a8d2" stroke="#676780" stroke-width="12" stroke-linejoin="round"/></g><g transform="translate(50 1245) scale(0.15555)"><path d="M265 465 L285 430 L310 400 L320 365 L350 340 L385 355 L420 370 L460 375 L490 385 L515 365 L545 385 L555 420 L560 455 L590 490 L595 515 L570 545 L540 540 L505 545 L500 580 L470 575 L440 570 L400 578 L360 570 L320 565 L300 530 L285 500 Z" fill="#cbcbe6" stroke="#676780" stroke-width="5.5" stroke-linejoin="round"/></g>
<path d="M127.4 1277.7V1260.6H178.3M127.4 1319.6V1336H178.3" fill="none" stroke="#2f3f86" stroke-width="1"/>
<text x="187.7" y="1265.0" font-size="20.0" font-weight="700" fill="#1d1d1b" stroke="#1d1d1b" stroke-width="0.17" textLength="43.3" lengthAdjust="spacingAndGlyphs">8,9%</text>
<text x="189.0" y="1341.7" font-size="20.0" font-weight="700" fill="#1d1d1b" stroke="#1d1d1b" stroke-width="0.17" textLength="42.7" lengthAdjust="spacingAndGlyphs">2,3%</text>
<text x="243.3" y="1261.0" font-size="12.6" font-weight="400" fill="#1d1d1b" stroke="#1d1d1b" stroke-width="0.23" textLength="38.4" lengthAdjust="spacingAndGlyphs">Region</text>
<text x="243.3" y="1276.3" font-size="12.6" font-weight="400" fill="#1d1d1b" stroke="#1d1d1b" stroke-width="0.23" textLength="66.7" lengthAdjust="spacingAndGlyphs">mazowiecki</text>
<text x="243.3" y="1291.7" font-size="12.6" font-weight="400" fill="#1d1d1b" stroke="#1d1d1b" stroke-width="0.23" textLength="60.0" lengthAdjust="spacingAndGlyphs">regionalny</text>
<text x="243.3" y="1336.7" font-size="12.6" font-weight="400" fill="#1d1d1b" stroke="#1d1d1b" stroke-width="0.23" textLength="38.4" lengthAdjust="spacingAndGlyphs">Region</text>
<text x="243.3" y="1352.3" font-size="12.6" font-weight="400" fill="#1d1d1b" stroke="#1d1d1b" stroke-width="0.23" textLength="64.4" lengthAdjust="spacingAndGlyphs">warszawski</text>
<text x="243.3" y="1367.7" font-size="12.6" font-weight="400" fill="#1d1d1b" stroke="#1d1d1b" stroke-width="0.23" textLength="54.0" lengthAdjust="spacingAndGlyphs">stołeczny</text>
</g>
<g id="poland">
<text x="85.0" y="1458.3" font-size="17.4" font-weight="700" fill="#1d1d1b" stroke="#1d1d1b" stroke-width="0.39" textLength="195.7" lengthAdjust="spacingAndGlyphs">Cities with powiat status</text>
<text x="72.7" y="1482.7" font-size="17.4" font-weight="700" fill="#1d1d1b" stroke="#1d1d1b" stroke-width="0.39" textLength="220.0" lengthAdjust="spacingAndGlyphs">with the lowest and highest</text>
<text x="66.0" y="1506.7" font-size="17.4" font-weight="700" fill="#1d1d1b" stroke="#1d1d1b" stroke-width="0.39" textLength="234.0" lengthAdjust="spacingAndGlyphs">unemployment rate in Poland</text>
<g transform="translate(120 1515) scale(0.17778)"><path d="M100 190 L130 185 L160 170 L200 158 L235 145 L262 120 L300 100 L350 90 L400 85 L430 100 L440 118 L430 135 L460 150 L490 155 L510 142 L540 145 L600 150 L660 152 L720 155 L750 152 L770 175 L780 200 L790 240 L800 280 L810 310 L805 345 L785 370 L760 390 L752 410 L770 430 L785 455 L782 490 L795 520 L810 545 L822 575 L815 600 L790 625 L770 650 L750 680 L735 705 L730 735 L745 770 L735 775 L700 760 L670 745 L640 735 L610 740 L580 735 L560 745 L545 760 L525 755 L510 735 L495 720 L470 715 L450 695 L425 690 L400 670 L380 660 L365 640 L345 630 L320 625 L300 640 L285 655 L265 640 L250 620 L260 605 L235 595 L205 585 L175 580 L150 565 L140 545 L150 520 L140 495 L125 470 L128 440 L118 410 L125 380 L120 350 L105 330 L95 310 L105 280 L100 250 L112 225 L100 210 Z" fill="#9d9dcb" stroke="#5a5a70" stroke-width="3.4" stroke-linejoin="round"/></g>
<path d="M132 1569.6H175.8V1584.9M241.4 1641.2V1623.1H266.7" fill="none" stroke="#202d7a" stroke-width="1"/>
<circle cx="175.8" cy="1584.9" r="2.7" fill="#202d7a"/>
<circle cx="241.4" cy="1641.2" r="2.7" fill="#202d7a"/>
<text x="80.0" y="1563.3" font-size="14.0" font-weight="400" fill="#1d1d1b" stroke="#1d1d1b" stroke-width="0.25" textLength="41.0" lengthAdjust="spacingAndGlyphs">Poznań</text>
<text x="82.6" y="1587.3" font-size="20.0" font-weight="700" fill="#1d1d1b" stroke="#1d1d1b" stroke-width="0.17" textLength="39.2" lengthAdjust="spacingAndGlyphs">1.4%</text>
<text x="272.3" y="1626.7" font-size="14.0" font-weight="400" fill="#1d1d1b" stroke="#1d1d1b" stroke-width="0.25" textLength="51.0" lengthAdjust="spacingAndGlyphs">Przemyśl</text>
<text x="273.3" y="1651.0" font-size="20.0" font-weight="700" fill="#1d1d1b" stroke="#1d1d1b" stroke-width="0.17" textLength="52.7" lengthAdjust="spacingAndGlyphs">10.5%</text>
</g>
<g id="footer">
<text x="51.1" y="1801.1" font-size="24.0" font-weight="400" fill="#111" stroke="#111" stroke-width="0.43" textLength="50.5" lengthAdjust="spacingAndGlyphs">Rate</text>
<text x="55.1" y="1811.6" font-size="10.2" font-weight="400" fill="#111" stroke="#111" stroke-width="0.18" textLength="42.7" lengthAdjust="spacingAndGlyphs">the study</text>
<path d="M116.30 1741.20 L118.30 1745.15 L122.67 1745.83 L119.53 1748.95 L120.24 1753.32 L116.30 1751.30 L112.36 1753.32 L113.07 1748.95 L109.93 1745.83 L114.30 1745.15Z" fill="#dfe8ae" stroke="#dfe8ae" stroke-width="1.3" stroke-linejoin="round"/><path d="M110.03 1745.83L112.77 1748.95L112.16 1753.52" fill="none" stroke="#b3cb26" stroke-width="1.25" stroke-linecap="round" stroke-linejoin="round"/><path d="M131.60 1741.20 L133.60 1745.15 L137.97 1745.83 L134.83 1748.95 L135.54 1753.32 L131.60 1751.30 L127.66 1753.32 L128.37 1748.95 L125.23 1745.83 L129.60 1745.15Z" fill="#e4e6e6" stroke="#e4e6e6" stroke-width="1.3" stroke-linejoin="round"/><path d="M147.00 1741.20 L149.00 1745.15 L153.37 1745.83 L150.23 1748.95 L150.94 1753.32 L147.00 1751.30 L143.06 1753.32 L143.77 1748.95 L140.63 1745.83 L145.00 1745.15Z" fill="#e4e6e6" stroke="#e4e6e6" stroke-width="1.3" stroke-linejoin="round"/><path d="M162.30 1741.20 L164.30 1745.15 L168.67 1745.83 L165.53 1748.95 L166.24 1753.32 L162.30 1751.30 L158.36 1753.32 L159.07 1748.95 L155.93 1745.83 L160.30 1745.15Z" fill="#e4e6e6" stroke="#e4e6e6" stroke-width="1.3" stroke-linejoin="round"/><path d="M177.50 1741.20 L179.50 1745.15 L183.87 1745.83 L180.73 1748.95 L181.44 1753.32 L177.50 1751.30 L173.56 1753.32 L174.27 1748.95 L171.13 1745.83 L175.50 1745.15Z" fill="#e4e6e6" stroke="#e4e6e6" stroke-width="1.3" stroke-linejoin="round"/><path d="M116.30 1756.50 L118.30 1760.45 L122.67 1761.13 L119.53 1764.25 L120.24 1768.62 L116.30 1766.60 L112.36 1768.62 L113.07 1764.25 L109.93 1761.13 L114.30 1760.45Z" fill="#dfe8ae" stroke="#dfe8ae" stroke-width="1.3" stroke-linejoin="round"/><path d="M110.03 1761.13L112.77 1764.25L112.16 1768.82" fill="none" stroke="#b3cb26" stroke-width="1.25" stroke-linecap="round" stroke-linejoin="round"/><path d="M131.60 1756.50 L133.60 1760.45 L137.97 1761.13 L134.83 1764.25 L135.54 1768.62 L131.60 1766.60 L127.66 1768.62 L128.37 1764.25 L125.23 1761.13 L129.60 1760.45Z" fill="#dfe8ae" stroke="#dfe8ae" stroke-width="1.3" stroke-linejoin="round"/><path d="M125.33 1761.13L128.07 1764.25L127.46 1768.82" fill="none" stroke="#b3cb26" stroke-width="1.25" stroke-linecap="round" stroke-linejoin="round"/><path d="M147.00 1756.50 L149.00 1760.45 L153.37 1761.13 L150.23 1764.25 L150.94 1768.62 L147.00 1766.60 L143.06 1768.62 L143.77 1764.25 L140.63 1761.13 L145.00 1760.45Z" fill="#e4e6e6" stroke="#e4e6e6" stroke-width="1.3" stroke-linejoin="round"/><path d="M162.30 1756.50 L164.30 1760.45 L168.67 1761.13 L165.53 1764.25 L166.24 1768.62 L162.30 1766.60 L158.36 1768.62 L159.07 1764.25 L155.93 1761.13 L160.30 1760.45Z" fill="#e4e6e6" stroke="#e4e6e6" stroke-width="1.3" stroke-linejoin="round"/><path d="M177.50 1756.50 L179.50 1760.45 L183.87 1761.13 L180.73 1764.25 L181.44 1768.62 L177.50 1766.60 L173.56 1768.62 L174.27 1764.25 L171.13 1761.13 L175.50 1760.45Z" fill="#e4e6e6" stroke="#e4e6e6" stroke-width="1.3" stroke-linejoin="round"/><path d="M116.30 1771.90 L118.30 1775.85 L122.67 1776.53 L119.53 1779.65 L120.24 1784.02 L116.30 1782.00 L112.36 1784.02 L113.07 1779.65 L109.93 1776.53 L114.30 1775.85Z" fill="#dfe8ae" stroke="#dfe8ae" stroke-width="1.3" stroke-linejoin="round"/><path d="M110.03 1776.53L112.77 1779.65L112.16 1784.22" fill="none" stroke="#b3cb26" stroke-width="1.25" stroke-linecap="round" stroke-linejoin="round"/><path d="M131.60 1771.90 L133.60 1775.85 L137.97 1776.53 L134.83 1779.65 L135.54 1784.02 L131.60 1782.00 L127.66 1784.02 L128.37 1779.65 L125.23 1776.53 L129.60 1775.85Z" fill="#dfe8ae" stroke="#dfe8ae" stroke-width="1.3" stroke-linejoin="round"/><path d="M125.33 1776.53L128.07 1779.65L127.46 1784.22" fill="none" stroke="#b3cb26" stroke-width="1.25" stroke-linecap="round" stroke-linejoin="round"/><path d="M147.00 1771.90 L149.00 1775.85 L153.37 1776.53 L150.23 1779.65 L150.94 1784.02 L147.00 1782.00 L143.06 1784.02 L143.77 1779.65 L140.63 1776.53 L145.00 1775.85Z" fill="#dfe8ae" stroke="#dfe8ae" stroke-width="1.3" stroke-linejoin="round"/><path d="M140.73 1776.53L143.47 1779.65L142.86 1784.22" fill="none" stroke="#b3cb26" stroke-width="1.25" stroke-linecap="round" stroke-linejoin="round"/><path d="M162.30 1771.90 L164.30 1775.85 L168.67 1776.53 L165.53 1779.65 L166.24 1784.02 L162.30 1782.00 L158.36 1784.02 L159.07 1779.65 L155.93 1776.53 L160.30 1775.85Z" fill="#e4e6e6" stroke="#e4e6e6" stroke-width="1.3" stroke-linejoin="round"/><path d="M177.50 1771.90 L179.50 1775.85 L183.87 1776.53 L180.73 1779.65 L181.44 1784.02 L177.50 1782.00 L173.56 1784.02 L174.27 1779.65 L171.13 1776.53 L175.50 1775.85Z" fill="#e4e6e6" stroke="#e4e6e6" stroke-width="1.3" stroke-linejoin="round"/><path d="M116.30 1787.20 L118.30 1791.15 L122.67 1791.83 L119.53 1794.95 L120.24 1799.32 L116.30 1797.30 L112.36 1799.32 L113.07 1794.95 L109.93 1791.83 L114.30 1791.15Z" fill="#dfe8ae" stroke="#dfe8ae" stroke-width="1.3" stroke-linejoin="round"/><path d="M110.03 1791.83L112.77 1794.95L112.16 1799.52" fill="none" stroke="#b3cb26" stroke-width="1.25" stroke-linecap="round" stroke-linejoin="round"/><path d="M131.60 1787.20 L133.60 1791.15 L137.97 1791.83 L134.83 1794.95 L135.54 1799.32 L131.60 1797.30 L127.66 1799.32 L128.37 1794.95 L125.23 1791.83 L129.60 1791.15Z" fill="#dfe8ae" stroke="#dfe8ae" stroke-width="1.3" stroke-linejoin="round"/><path d="M125.33 1791.83L128.07 1794.95L127.46 1799.52" fill="none" stroke="#b3cb26" stroke-width="1.25" stroke-linecap="round" stroke-linejoin="round"/><path d="M147.00 1787.20 L149.00 1791.15 L153.37 1791.83 L150.23 1794.95 L150.94 1799.32 L147.00 1797.30 L143.06 1799.32 L143.77 1794.95 L140.63 1791.83 L145.00 1791.15Z" fill="#dfe8ae" stroke="#dfe8ae" stroke-width="1.3" stroke-linejoin="round"/><path d="M140.73 1791.83L143.47 1794.95L142.86 1799.52" fill="none" stroke="#b3cb26" stroke-width="1.25" stroke-linecap="round" stroke-linejoin="round"/><path d="M162.30 1787.20 L164.30 1791.15 L168.67 1791.83 L165.53 1794.95 L166.24 1799.32 L162.30 1797.30 L158.36 1799.32 L159.07 1794.95 L155.93 1791.83 L160.30 1791.15Z" fill="#dfe8ae" stroke="#dfe8ae" stroke-width="1.3" stroke-linejoin="round"/><path d="M156.03 1791.83L158.77 1794.95L158.16 1799.52" fill="none" stroke="#b3cb26" stroke-width="1.25" stroke-linecap="round" stroke-linejoin="round"/><path d="M177.50 1787.20 L179.50 1791.15 L183.87 1791.83 L180.73 1794.95 L181.44 1799.32 L177.50 1797.30 L173.56 1799.32 L174.27 1794.95 L171.13 1791.83 L175.50 1791.15Z" fill="#e4e6e6" stroke="#e4e6e6" stroke-width="1.3" stroke-linejoin="round"/><path d="M116.30 1802.50 L118.30 1806.45 L122.67 1807.13 L119.53 1810.25 L120.24 1814.62 L116.30 1812.60 L112.36 1814.62 L113.07 1810.25 L109.93 1807.13 L114.30 1806.45Z" fill="#dfe8ae" stroke="#dfe8ae" stroke-width="1.3" stroke-linejoin="round"/><path d="M110.03 1807.13L112.77 1810.25L112.16 1814.82" fill="none" stroke="#b3cb26" stroke-width="1.25" stroke-linecap="round" stroke-linejoin="round"/><path d="M131.60 1802.50 L133.60 1806.45 L137.97 1807.13 L134.83 1810.25 L135.54 1814.62 L131.60 1812.60 L127.66 1814.62 L128.37 1810.25 L125.23 1807.13 L129.60 1806.45Z" fill="#dfe8ae" stroke="#dfe8ae" stroke-width="1.3" stroke-linejoin="round"/><path d="M125.33 1807.13L128.07 1810.25L127.46 1814.82" fill="none" stroke="#b3cb26" stroke-width="1.25" stroke-linecap="round" stroke-linejoin="round"/><path d="M147.00 1802.50 L149.00 1806.45 L153.37 1807.13 L150.23 1810.25 L150.94 1814.62 L147.00 1812.60 L143.06 1814.62 L143.77 1810.25 L140.63 1807.13 L145.00 1806.45Z" fill="#dfe8ae" stroke="#dfe8ae" stroke-width="1.3" stroke-linejoin="round"/><path d="M140.73 1807.13L143.47 1810.25L142.86 1814.82" fill="none" stroke="#b3cb26" stroke-width="1.25" stroke-linecap="round" stroke-linejoin="round"/><path d="M162.30 1802.50 L164.30 1806.45 L168.67 1807.13 L165.53 1810.25 L166.24 1814.62 L162.30 1812.60 L158.36 1814.62 L159.07 1810.25 L155.93 1807.13 L160.30 1806.45Z" fill="#dfe8ae" stroke="#dfe8ae" stroke-width="1.3" stroke-linejoin="round"/><path d="M156.03 1807.13L158.77 1810.25L158.16 1814.82" fill="none" stroke="#b3cb26" stroke-width="1.25" stroke-linecap="round" stroke-linejoin="round"/><path d="M177.50 1802.50 L179.50 1806.45 L183.87 1807.13 L180.73 1810.25 L181.44 1814.62 L177.50 1812.60 L173.56 1814.62 L174.27 1810.25 L171.13 1807.13 L175.50 1806.45Z" fill="#dfe8ae" stroke="#dfe8ae" stroke-width="1.3" stroke-linejoin="round"/><path d="M171.23 1807.13L173.97 1810.25L173.36 1814.82" fill="none" stroke="#b3cb26" stroke-width="1.25" stroke-linecap="round" stroke-linejoin="round"/>
<path d="M204.9 1748.3V1759.0" stroke="#6f6f6e" stroke-width="1.3" fill="none"/><path d="M204.9 1742.3L201.0 1749.8L208.8 1749.8Z" fill="#6f6f6e"/>
<path d="M213.9 1742.3V1753.0" stroke="#6f6f6e" stroke-width="1.3" fill="none"/><path d="M213.9 1759.0L210.0 1751.5L217.8 1751.5Z" fill="#6f6f6e"/>
<text x="231.5" y="1758.2" font-size="10.4" font-weight="400" fill="#1d1d1b" stroke="#1d1d1b" stroke-width="0.19" textLength="222.5" lengthAdjust="spacingAndGlyphs">increase/decrease compared to September 2024</text>
<text x="203.5" y="1780.0" font-size="10.4" font-weight="400" fill="#1d1d1b" stroke="#1d1d1b" stroke-width="0.19" textLength="222.5" lengthAdjust="spacingAndGlyphs">* In enterprises employing more than 9 persons.</text>
<text x="561.2" y="1802.0" font-size="10.4" font-weight="400" fill="#1d1d1b" stroke="#1d1d1b" stroke-width="0.19" textLength="311.6" lengthAdjust="spacingAndGlyphs">When publishing Statistical Office data - please indicate the source.</text>
<rect x="38.2" y="1818.9" width="846.6" height="4.1" fill="#a9c623"/>
</g>
</svg>
</body>
</html>
